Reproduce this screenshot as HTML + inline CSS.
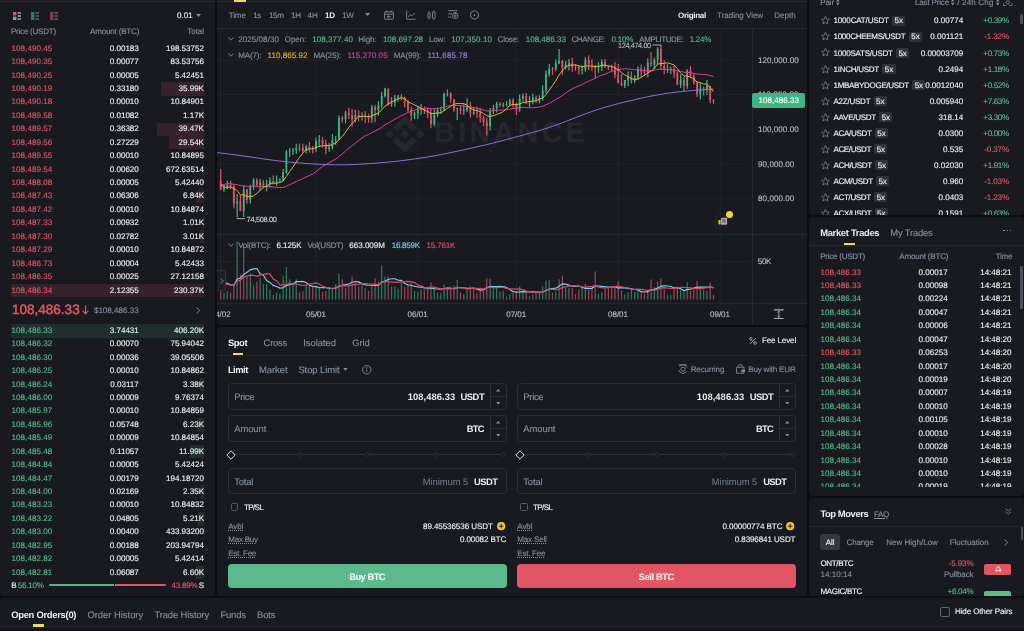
<!DOCTYPE html>
<html lang="en"><head><meta charset="utf-8">
<title>BTC/USDT | Binance Spot</title>
<style>
*{box-sizing:border-box;margin:0;padding:0}
html,body{width:1024px;height:631px;overflow:hidden;background:#0b0e11;}
body{text-rendering:geometricPrecision;font-family:"Liberation Sans",sans-serif;font-size:8.06px;color:#eaecef;-webkit-font-smoothing:antialiased;}
#root{will-change:transform;position:relative;width:1024px;height:631px;overflow:hidden;background:#0b0e11;}
.a{position:absolute;display:block}
.p{background:#181a20;overflow:hidden}
.t{white-space:nowrap}
.s{-webkit-text-stroke:0.13px}
svg{position:absolute;overflow:visible}
</style></head>
<body><div id="root">
<div class="a p" style="left:0px;top:-6px;width:215px;height:602px;border-radius:4px;">
<div class="a" style="left:0.00px;top:7.00px;width:215.00px;height:1.00px;background:#262a31;"></div>
<svg style="left:13px;top:17.8px;opacity:1.0" width="8" height="8" viewBox="0 0 8 8"><rect x="0" y="0" width="3.4" height="3.4" fill="#e25563"/><rect x="0" y="4.6" width="3.4" height="3.4" fill="#55b88a"/><rect x="4.6" y="0" width="3.4" height="1.8" fill="#848e9c"/><rect x="4.6" y="3.1" width="3.4" height="1.8" fill="#848e9c"/><rect x="4.6" y="6.2" width="3.4" height="1.8" fill="#848e9c"/></svg>
<svg style="left:31.2px;top:17.8px;opacity:0.55" width="8" height="8" viewBox="0 0 8 8"><rect x="0" y="0" width="3.4" height="8" fill="#55b88a"/><rect x="4.6" y="0" width="3.4" height="1.8" fill="#848e9c"/><rect x="4.6" y="3.1" width="3.4" height="1.8" fill="#848e9c"/><rect x="4.6" y="6.2" width="3.4" height="1.8" fill="#848e9c"/></svg>
<svg style="left:49.8px;top:17.8px;opacity:0.55" width="8" height="8" viewBox="0 0 8 8"><rect x="0" y="0" width="3.4" height="8" fill="#e25563"/><rect x="4.6" y="0" width="3.4" height="1.8" fill="#848e9c"/><rect x="4.6" y="3.1" width="3.4" height="1.8" fill="#848e9c"/><rect x="4.6" y="6.2" width="3.4" height="1.8" fill="#848e9c"/></svg>
<span id="t1" class="a t s" style="top:16.16px;height:12.09px;line-height:12.09px;font-size:8.06px;color:#eaecef;right:22.39px;letter-spacing:0.007px;">0.01</span>
<svg style="left:196px;top:20px" width="5" height="3" viewBox="0 0 5 3"><path d="M0 0h5L2.5 3z" fill="#848e9c"/></svg>
<span id="t2" class="a t s" style="top:31.85px;height:12.09px;line-height:12.09px;font-size:8.06px;color:#848e9c;left:11.00px;letter-spacing:-0.245px;">Price (USDT)</span>
<span id="t3" class="a t s" style="top:31.85px;height:12.09px;line-height:12.09px;font-size:8.06px;color:#848e9c;right:75.79px;letter-spacing:-0.185px;">Amount (BTC)</span>
<span id="t4" class="a t s" style="top:31.85px;height:12.09px;line-height:12.09px;font-size:8.06px;color:#848e9c;right:11.08px;letter-spacing:-0.080px;">Total</span>
<span id="t5" class="a t s" style="top:48.76px;height:12.09px;line-height:12.09px;font-size:8.06px;color:#e25563;left:11.60px;letter-spacing:0.032px;">108,490.45</span>
<span id="t6" class="a t s" style="top:48.76px;height:12.09px;line-height:12.09px;font-size:8.06px;color:#eaecef;right:76.20px;">0.00183</span>
<span id="t7" class="a t s" style="top:48.76px;height:12.09px;line-height:12.09px;font-size:8.06px;color:#eaecef;right:11.00px;">198.53752</span>
<span id="t8" class="a t s" style="top:62.18px;height:12.09px;line-height:12.09px;font-size:8.06px;color:#e25563;left:11.60px;letter-spacing:0.032px;">108,490.35</span>
<span id="t9" class="a t s" style="top:62.18px;height:12.09px;line-height:12.09px;font-size:8.06px;color:#eaecef;right:76.20px;">0.00077</span>
<span id="t10" class="a t s" style="top:62.18px;height:12.09px;line-height:12.09px;font-size:8.06px;color:#eaecef;right:11.00px;">83.53756</span>
<span id="t11" class="a t s" style="top:75.61px;height:12.09px;line-height:12.09px;font-size:8.06px;color:#e25563;left:11.60px;letter-spacing:0.032px;">108,490.25</span>
<span id="t12" class="a t s" style="top:75.61px;height:12.09px;line-height:12.09px;font-size:8.06px;color:#eaecef;right:76.20px;">0.00005</span>
<span id="t13" class="a t s" style="top:75.61px;height:12.09px;line-height:12.09px;font-size:8.06px;color:#eaecef;right:11.00px;">5.42451</span>
<div class="a" style="left:160.80px;top:88.28px;width:43.20px;height:13.43px;background:#35222a;"></div>
<span id="t14" class="a t s" style="top:89.05px;height:12.09px;line-height:12.09px;font-size:8.06px;color:#e25563;left:11.60px;letter-spacing:0.032px;">108,490.19</span>
<span id="t15" class="a t s" style="top:89.05px;height:12.09px;line-height:12.09px;font-size:8.06px;color:#eaecef;right:76.20px;">0.33180</span>
<span id="t16" class="a t s" style="top:89.05px;height:12.09px;line-height:12.09px;font-size:8.06px;color:#eaecef;right:11.00px;">35.99K</span>
<span id="t17" class="a t s" style="top:102.47px;height:12.09px;line-height:12.09px;font-size:8.06px;color:#e25563;left:11.60px;letter-spacing:0.032px;">108,490.18</span>
<span id="t18" class="a t s" style="top:102.47px;height:12.09px;line-height:12.09px;font-size:8.06px;color:#eaecef;right:76.20px;">0.00010</span>
<span id="t19" class="a t s" style="top:102.47px;height:12.09px;line-height:12.09px;font-size:8.06px;color:#eaecef;right:11.00px;">10.84901</span>
<div class="a" style="left:202.40px;top:115.14px;width:1.60px;height:13.43px;background:#35222a;"></div>
<span id="t20" class="a t s" style="top:115.91px;height:12.09px;line-height:12.09px;font-size:8.06px;color:#e25563;left:11.60px;letter-spacing:0.032px;">108,489.58</span>
<span id="t21" class="a t s" style="top:115.91px;height:12.09px;line-height:12.09px;font-size:8.06px;color:#eaecef;right:76.20px;">0.01082</span>
<span id="t22" class="a t s" style="top:115.91px;height:12.09px;line-height:12.09px;font-size:8.06px;color:#eaecef;right:11.00px;">1.17K</span>
<div class="a" style="left:156.60px;top:128.56px;width:47.40px;height:13.43px;background:#35222a;"></div>
<span id="t23" class="a t s" style="top:129.34px;height:12.09px;line-height:12.09px;font-size:8.06px;color:#e25563;left:11.60px;letter-spacing:0.032px;">108,489.57</span>
<span id="t24" class="a t s" style="top:129.34px;height:12.09px;line-height:12.09px;font-size:8.06px;color:#eaecef;right:76.20px;">0.36382</span>
<span id="t25" class="a t s" style="top:129.34px;height:12.09px;line-height:12.09px;font-size:8.06px;color:#eaecef;right:11.00px;">39.47K</span>
<div class="a" style="left:168.60px;top:141.99px;width:35.40px;height:13.43px;background:#35222a;"></div>
<span id="t26" class="a t s" style="top:142.76px;height:12.09px;line-height:12.09px;font-size:8.06px;color:#e25563;left:11.60px;letter-spacing:0.032px;">108,489.56</span>
<span id="t27" class="a t s" style="top:142.76px;height:12.09px;line-height:12.09px;font-size:8.06px;color:#eaecef;right:76.20px;">0.27229</span>
<span id="t28" class="a t s" style="top:142.76px;height:12.09px;line-height:12.09px;font-size:8.06px;color:#eaecef;right:11.00px;">29.54K</span>
<span id="t29" class="a t s" style="top:156.19px;height:12.09px;line-height:12.09px;font-size:8.06px;color:#e25563;left:11.60px;letter-spacing:0.032px;">108,489.55</span>
<span id="t30" class="a t s" style="top:156.19px;height:12.09px;line-height:12.09px;font-size:8.06px;color:#eaecef;right:76.20px;">0.00010</span>
<span id="t31" class="a t s" style="top:156.19px;height:12.09px;line-height:12.09px;font-size:8.06px;color:#eaecef;right:11.00px;">10.84895</span>
<div class="a" style="left:203.10px;top:168.85px;width:0.90px;height:13.43px;background:#35222a;"></div>
<span id="t32" class="a t s" style="top:169.62px;height:12.09px;line-height:12.09px;font-size:8.06px;color:#e25563;left:11.60px;letter-spacing:0.032px;">108,489.54</span>
<span id="t33" class="a t s" style="top:169.62px;height:12.09px;line-height:12.09px;font-size:8.06px;color:#eaecef;right:76.20px;">0.00620</span>
<span id="t34" class="a t s" style="top:169.62px;height:12.09px;line-height:12.09px;font-size:8.06px;color:#eaecef;right:11.00px;">672.63514</span>
<span id="t35" class="a t s" style="top:183.06px;height:12.09px;line-height:12.09px;font-size:8.06px;color:#e25563;left:11.60px;letter-spacing:0.032px;">108,488.08</span>
<span id="t36" class="a t s" style="top:183.06px;height:12.09px;line-height:12.09px;font-size:8.06px;color:#eaecef;right:76.20px;">0.00005</span>
<span id="t37" class="a t s" style="top:183.06px;height:12.09px;line-height:12.09px;font-size:8.06px;color:#eaecef;right:11.00px;">5.42440</span>
<div class="a" style="left:195.80px;top:195.72px;width:8.20px;height:13.43px;background:#35222a;"></div>
<span id="t38" class="a t s" style="top:196.49px;height:12.09px;line-height:12.09px;font-size:8.06px;color:#e25563;left:11.60px;letter-spacing:0.032px;">108,487.43</span>
<span id="t39" class="a t s" style="top:196.49px;height:12.09px;line-height:12.09px;font-size:8.06px;color:#eaecef;right:76.20px;">0.06306</span>
<span id="t40" class="a t s" style="top:196.49px;height:12.09px;line-height:12.09px;font-size:8.06px;color:#eaecef;right:11.00px;">6.84K</span>
<span id="t41" class="a t s" style="top:209.92px;height:12.09px;line-height:12.09px;font-size:8.06px;color:#e25563;left:11.60px;letter-spacing:0.032px;">108,487.42</span>
<span id="t42" class="a t s" style="top:209.92px;height:12.09px;line-height:12.09px;font-size:8.06px;color:#eaecef;right:76.20px;">0.00010</span>
<span id="t43" class="a t s" style="top:209.92px;height:12.09px;line-height:12.09px;font-size:8.06px;color:#eaecef;right:11.00px;">10.84874</span>
<div class="a" style="left:202.60px;top:222.58px;width:1.40px;height:13.43px;background:#35222a;"></div>
<span id="t44" class="a t s" style="top:223.35px;height:12.09px;line-height:12.09px;font-size:8.06px;color:#e25563;left:11.60px;letter-spacing:0.032px;">108,487.33</span>
<span id="t45" class="a t s" style="top:223.35px;height:12.09px;line-height:12.09px;font-size:8.06px;color:#eaecef;right:76.20px;">0.00932</span>
<span id="t46" class="a t s" style="top:223.35px;height:12.09px;line-height:12.09px;font-size:8.06px;color:#eaecef;right:11.00px;">1.01K</span>
<div class="a" style="left:200.40px;top:236.00px;width:3.60px;height:13.43px;background:#35222a;"></div>
<span id="t47" class="a t s" style="top:236.77px;height:12.09px;line-height:12.09px;font-size:8.06px;color:#e25563;left:11.60px;letter-spacing:0.032px;">108,487.30</span>
<span id="t48" class="a t s" style="top:236.77px;height:12.09px;line-height:12.09px;font-size:8.06px;color:#eaecef;right:76.20px;">0.02782</span>
<span id="t49" class="a t s" style="top:236.77px;height:12.09px;line-height:12.09px;font-size:8.06px;color:#eaecef;right:11.00px;">3.01K</span>
<span id="t50" class="a t s" style="top:250.20px;height:12.09px;line-height:12.09px;font-size:8.06px;color:#e25563;left:11.60px;letter-spacing:0.032px;">108,487.29</span>
<span id="t51" class="a t s" style="top:250.20px;height:12.09px;line-height:12.09px;font-size:8.06px;color:#eaecef;right:76.20px;">0.00010</span>
<span id="t52" class="a t s" style="top:250.20px;height:12.09px;line-height:12.09px;font-size:8.06px;color:#eaecef;right:11.00px;">10.84872</span>
<span id="t53" class="a t s" style="top:263.63px;height:12.09px;line-height:12.09px;font-size:8.06px;color:#e25563;left:11.60px;letter-spacing:0.032px;">108,486.73</span>
<span id="t54" class="a t s" style="top:263.63px;height:12.09px;line-height:12.09px;font-size:8.06px;color:#eaecef;right:76.20px;">0.00004</span>
<span id="t55" class="a t s" style="top:263.63px;height:12.09px;line-height:12.09px;font-size:8.06px;color:#eaecef;right:11.00px;">5.42433</span>
<span id="t56" class="a t s" style="top:277.06px;height:12.09px;line-height:12.09px;font-size:8.06px;color:#e25563;left:11.60px;letter-spacing:0.032px;">108,486.35</span>
<span id="t57" class="a t s" style="top:277.06px;height:12.09px;line-height:12.09px;font-size:8.06px;color:#eaecef;right:76.20px;">0.00025</span>
<span id="t58" class="a t s" style="top:277.06px;height:12.09px;line-height:12.09px;font-size:8.06px;color:#eaecef;right:11.00px;">27.12158</span>
<div class="a" style="left:11.00px;top:289.73px;width:193.00px;height:13.43px;background:#35222a;"></div>
<span id="t59" class="a t s" style="top:290.50px;height:12.09px;line-height:12.09px;font-size:8.06px;color:#e25563;left:11.60px;letter-spacing:0.032px;">108,486.34</span>
<span id="t60" class="a t s" style="top:290.50px;height:12.09px;line-height:12.09px;font-size:8.06px;color:#eaecef;right:76.20px;">2.12355</span>
<span id="t61" class="a t s" style="top:290.50px;height:12.09px;line-height:12.09px;font-size:8.06px;color:#eaecef;right:11.00px;">230.37K</span>
<div class="a" style="left:11.00px;top:330.09px;width:193.00px;height:13.43px;background:#1e2f2d;"></div>
<span id="t62" class="a t s" style="top:330.86px;height:12.09px;line-height:12.09px;font-size:8.06px;color:#55b88a;left:11.60px;letter-spacing:0.032px;">108,486.33</span>
<span id="t63" class="a t s" style="top:330.86px;height:12.09px;line-height:12.09px;font-size:8.06px;color:#eaecef;right:76.20px;">3.74431</span>
<span id="t64" class="a t s" style="top:330.86px;height:12.09px;line-height:12.09px;font-size:8.06px;color:#eaecef;right:11.00px;">406.20K</span>
<span id="t65" class="a t s" style="top:344.29px;height:12.09px;line-height:12.09px;font-size:8.06px;color:#55b88a;left:11.60px;letter-spacing:0.032px;">108,486.32</span>
<span id="t66" class="a t s" style="top:344.29px;height:12.09px;line-height:12.09px;font-size:8.06px;color:#eaecef;right:76.20px;">0.00070</span>
<span id="t67" class="a t s" style="top:344.29px;height:12.09px;line-height:12.09px;font-size:8.06px;color:#eaecef;right:11.00px;">75.94042</span>
<span id="t68" class="a t s" style="top:357.72px;height:12.09px;line-height:12.09px;font-size:8.06px;color:#55b88a;left:11.60px;letter-spacing:0.032px;">108,486.30</span>
<span id="t69" class="a t s" style="top:357.72px;height:12.09px;line-height:12.09px;font-size:8.06px;color:#eaecef;right:76.20px;">0.00036</span>
<span id="t70" class="a t s" style="top:357.72px;height:12.09px;line-height:12.09px;font-size:8.06px;color:#eaecef;right:11.00px;">39.05506</span>
<span id="t71" class="a t s" style="top:371.15px;height:12.09px;line-height:12.09px;font-size:8.06px;color:#55b88a;left:11.60px;letter-spacing:0.032px;">108,486.25</span>
<span id="t72" class="a t s" style="top:371.15px;height:12.09px;line-height:12.09px;font-size:8.06px;color:#eaecef;right:76.20px;">0.00010</span>
<span id="t73" class="a t s" style="top:371.15px;height:12.09px;line-height:12.09px;font-size:8.06px;color:#eaecef;right:11.00px;">10.84862</span>
<div class="a" style="left:200.00px;top:383.81px;width:4.00px;height:13.43px;background:#1e2f2d;"></div>
<span id="t74" class="a t s" style="top:384.57px;height:12.09px;line-height:12.09px;font-size:8.06px;color:#55b88a;left:11.60px;letter-spacing:0.032px;">108,486.24</span>
<span id="t75" class="a t s" style="top:384.57px;height:12.09px;line-height:12.09px;font-size:8.06px;color:#eaecef;right:76.20px;">0.03117</span>
<span id="t76" class="a t s" style="top:384.57px;height:12.09px;line-height:12.09px;font-size:8.06px;color:#eaecef;right:11.00px;">3.38K</span>
<span id="t77" class="a t s" style="top:398.01px;height:12.09px;line-height:12.09px;font-size:8.06px;color:#55b88a;left:11.60px;letter-spacing:0.032px;">108,486.00</span>
<span id="t78" class="a t s" style="top:398.01px;height:12.09px;line-height:12.09px;font-size:8.06px;color:#eaecef;right:76.20px;">0.00009</span>
<span id="t79" class="a t s" style="top:398.01px;height:12.09px;line-height:12.09px;font-size:8.06px;color:#eaecef;right:11.00px;">9.76374</span>
<span id="t80" class="a t s" style="top:411.44px;height:12.09px;line-height:12.09px;font-size:8.06px;color:#55b88a;left:11.60px;letter-spacing:0.032px;">108,485.97</span>
<span id="t81" class="a t s" style="top:411.44px;height:12.09px;line-height:12.09px;font-size:8.06px;color:#eaecef;right:76.20px;">0.00010</span>
<span id="t82" class="a t s" style="top:411.44px;height:12.09px;line-height:12.09px;font-size:8.06px;color:#eaecef;right:11.00px;">10.84859</span>
<div class="a" style="left:196.50px;top:424.10px;width:7.50px;height:13.43px;background:#1e2f2d;"></div>
<span id="t83" class="a t s" style="top:424.87px;height:12.09px;line-height:12.09px;font-size:8.06px;color:#55b88a;left:11.60px;letter-spacing:0.032px;">108,485.96</span>
<span id="t84" class="a t s" style="top:424.87px;height:12.09px;line-height:12.09px;font-size:8.06px;color:#eaecef;right:76.20px;">0.05748</span>
<span id="t85" class="a t s" style="top:424.87px;height:12.09px;line-height:12.09px;font-size:8.06px;color:#eaecef;right:11.00px;">6.23K</span>
<span id="t86" class="a t s" style="top:438.30px;height:12.09px;line-height:12.09px;font-size:8.06px;color:#55b88a;left:11.60px;letter-spacing:0.032px;">108,485.49</span>
<span id="t87" class="a t s" style="top:438.30px;height:12.09px;line-height:12.09px;font-size:8.06px;color:#eaecef;right:76.20px;">0.00009</span>
<span id="t88" class="a t s" style="top:438.30px;height:12.09px;line-height:12.09px;font-size:8.06px;color:#eaecef;right:11.00px;">10.84854</span>
<div class="a" style="left:189.60px;top:450.96px;width:14.40px;height:13.43px;background:#1e2f2d;"></div>
<span id="t89" class="a t s" style="top:451.73px;height:12.09px;line-height:12.09px;font-size:8.06px;color:#55b88a;left:11.60px;letter-spacing:0.032px;">108,485.48</span>
<span id="t90" class="a t s" style="top:451.73px;height:12.09px;line-height:12.09px;font-size:8.06px;color:#eaecef;right:76.20px;">0.11057</span>
<span id="t91" class="a t s" style="top:451.73px;height:12.09px;line-height:12.09px;font-size:8.06px;color:#eaecef;right:11.00px;">11.99K</span>
<span id="t92" class="a t s" style="top:465.16px;height:12.09px;line-height:12.09px;font-size:8.06px;color:#55b88a;left:11.60px;letter-spacing:0.032px;">108,484.84</span>
<span id="t93" class="a t s" style="top:465.16px;height:12.09px;line-height:12.09px;font-size:8.06px;color:#eaecef;right:76.20px;">0.00005</span>
<span id="t94" class="a t s" style="top:465.16px;height:12.09px;line-height:12.09px;font-size:8.06px;color:#eaecef;right:11.00px;">5.42424</span>
<span id="t95" class="a t s" style="top:478.58px;height:12.09px;line-height:12.09px;font-size:8.06px;color:#55b88a;left:11.60px;letter-spacing:0.032px;">108,484.47</span>
<span id="t96" class="a t s" style="top:478.58px;height:12.09px;line-height:12.09px;font-size:8.06px;color:#eaecef;right:76.20px;">0.00179</span>
<span id="t97" class="a t s" style="top:478.58px;height:12.09px;line-height:12.09px;font-size:8.06px;color:#eaecef;right:11.00px;">194.18720</span>
<div class="a" style="left:201.20px;top:491.25px;width:2.80px;height:13.43px;background:#1e2f2d;"></div>
<span id="t98" class="a t s" style="top:492.02px;height:12.09px;line-height:12.09px;font-size:8.06px;color:#55b88a;left:11.60px;letter-spacing:0.032px;">108,484.00</span>
<span id="t99" class="a t s" style="top:492.02px;height:12.09px;line-height:12.09px;font-size:8.06px;color:#eaecef;right:76.20px;">0.02169</span>
<span id="t100" class="a t s" style="top:492.02px;height:12.09px;line-height:12.09px;font-size:8.06px;color:#eaecef;right:11.00px;">2.35K</span>
<span id="t101" class="a t s" style="top:505.44px;height:12.09px;line-height:12.09px;font-size:8.06px;color:#55b88a;left:11.60px;letter-spacing:0.032px;">108,483.23</span>
<span id="t102" class="a t s" style="top:505.44px;height:12.09px;line-height:12.09px;font-size:8.06px;color:#eaecef;right:76.20px;">0.00010</span>
<span id="t103" class="a t s" style="top:505.44px;height:12.09px;line-height:12.09px;font-size:8.06px;color:#eaecef;right:11.00px;">10.84832</span>
<div class="a" style="left:197.70px;top:518.11px;width:6.30px;height:13.43px;background:#1e2f2d;"></div>
<span id="t104" class="a t s" style="top:518.88px;height:12.09px;line-height:12.09px;font-size:8.06px;color:#55b88a;left:11.60px;letter-spacing:0.032px;">108,483.22</span>
<span id="t105" class="a t s" style="top:518.88px;height:12.09px;line-height:12.09px;font-size:8.06px;color:#eaecef;right:76.20px;">0.04805</span>
<span id="t106" class="a t s" style="top:518.88px;height:12.09px;line-height:12.09px;font-size:8.06px;color:#eaecef;right:11.00px;">5.21K</span>
<div class="a" style="left:203.50px;top:531.53px;width:0.50px;height:13.43px;background:#1e2f2d;"></div>
<span id="t107" class="a t s" style="top:532.31px;height:12.09px;line-height:12.09px;font-size:8.06px;color:#55b88a;left:11.60px;letter-spacing:0.032px;">108,483.00</span>
<span id="t108" class="a t s" style="top:532.31px;height:12.09px;line-height:12.09px;font-size:8.06px;color:#eaecef;right:76.20px;">0.00400</span>
<span id="t109" class="a t s" style="top:532.31px;height:12.09px;line-height:12.09px;font-size:8.06px;color:#eaecef;right:11.00px;">433.93200</span>
<span id="t110" class="a t s" style="top:545.74px;height:12.09px;line-height:12.09px;font-size:8.06px;color:#55b88a;left:11.60px;letter-spacing:0.032px;">108,482.95</span>
<span id="t111" class="a t s" style="top:545.74px;height:12.09px;line-height:12.09px;font-size:8.06px;color:#eaecef;right:76.20px;">0.00188</span>
<span id="t112" class="a t s" style="top:545.74px;height:12.09px;line-height:12.09px;font-size:8.06px;color:#eaecef;right:11.00px;">203.94794</span>
<span id="t113" class="a t s" style="top:559.17px;height:12.09px;line-height:12.09px;font-size:8.06px;color:#55b88a;left:11.60px;letter-spacing:0.032px;">108,482.82</span>
<span id="t114" class="a t s" style="top:559.17px;height:12.09px;line-height:12.09px;font-size:8.06px;color:#eaecef;right:76.20px;">0.00005</span>
<span id="t115" class="a t s" style="top:559.17px;height:12.09px;line-height:12.09px;font-size:8.06px;color:#eaecef;right:11.00px;">5.42414</span>
<div class="a" style="left:196.10px;top:571.82px;width:7.90px;height:13.43px;background:#1e2f2d;"></div>
<span id="t116" class="a t s" style="top:572.60px;height:12.09px;line-height:12.09px;font-size:8.06px;color:#55b88a;left:11.60px;letter-spacing:0.032px;">108,482.81</span>
<span id="t117" class="a t s" style="top:572.60px;height:12.09px;line-height:12.09px;font-size:8.06px;color:#eaecef;right:76.20px;">0.06087</span>
<span id="t118" class="a t s" style="top:572.60px;height:12.09px;line-height:12.09px;font-size:8.06px;color:#eaecef;right:11.00px;">6.60K</span>
<span id="t119" class="a t" style="top:305.68px;height:20.25px;line-height:20.25px;font-size:13.5px;color:#e25563;left:11.90px;letter-spacing:0.022px;-webkit-text-stroke:0.5px #e25563;">108,486.33</span>
<svg style="left:81.6px;top:310.6px" width="7" height="9.6" viewBox="0 0 7 9.6"><path d="M3.5 0.3V8.6M0.6 5.7L3.5 8.8L6.4 5.7" fill="none" stroke="#e25563" stroke-width="1.15"/></svg>
<span id="t120" class="a t s" style="top:310.66px;height:12.09px;line-height:12.09px;font-size:8.06px;color:#848e9c;left:93.90px;letter-spacing:0.014px;">$108,486.33</span>
<svg style="left:196px;top:312.8px" width="4.4" height="7" viewBox="0 0 4.4 7"><path d="M0.6 0.5L3.7 3.5L0.6 6.5" fill="none" stroke="#848e9c" stroke-width="0.9"/></svg>
<span id="t121" class="a t s" style="top:585.56px;height:12.09px;line-height:12.09px;font-size:8.06px;color:#eaecef;left:11.30px;">B</span>
<span id="t122" class="a t s" style="top:585.56px;height:12.09px;line-height:12.09px;font-size:8.06px;color:#55b88a;left:17.80px;letter-spacing:-0.249px;">56.10%</span>
<div class="a" style="left:49.40px;top:589.70px;width:64.60px;height:2.60px;background:#55b88a;border-radius:1.3px 0 0 1.3px;"></div>
<div class="a" style="left:115.40px;top:589.70px;width:50.60px;height:2.60px;background:#e25563;border-radius:0 1.3px 1.3px 0;"></div>
<span id="t123" class="a t s" style="top:585.56px;height:12.09px;line-height:12.09px;font-size:8.06px;color:#e25563;left:171.40px;letter-spacing:-0.199px;">43.89%</span>
<span id="t124" class="a t s" style="top:585.56px;height:12.09px;line-height:12.09px;font-size:8.06px;color:#eaecef;right:11.00px;">S</span>
</div>
<div class="a p" style="left:217px;top:-6px;width:590px;height:331px;border-radius:4px;">
<div class="a" style="left:0.00px;top:7.00px;width:590.00px;height:1.00px;background:#262a31;"></div>
<div class="a" style="left:17.00px;top:5.00px;width:11.50px;height:2.60px;background:#f0d85a;"></div>
<div class="a" style="left:0.00px;top:33.60px;width:590.00px;height:1.00px;background:#23272e;"></div>
<span id="t125" class="a t s" style="top:15.55px;height:12.09px;line-height:12.09px;font-size:8.06px;color:#848e9c;left:11.80px;letter-spacing:-0.173px;">Time</span>
<span id="t126" class="a t s" style="top:15.55px;height:12.09px;line-height:12.09px;font-size:8.06px;color:#848e9c;left:36.30px;letter-spacing:-0.450px;">1s</span>
<span id="t127" class="a t s" style="top:15.55px;height:12.09px;line-height:12.09px;font-size:8.06px;color:#848e9c;left:52.00px;letter-spacing:-0.352px;">15m</span>
<span id="t128" class="a t s" style="top:15.55px;height:12.09px;line-height:12.09px;font-size:8.06px;color:#848e9c;left:74.10px;letter-spacing:-0.298px;">1H</span>
<span id="t129" class="a t s" style="top:15.55px;height:12.09px;line-height:12.09px;font-size:8.06px;color:#848e9c;left:90.50px;letter-spacing:0.002px;">4H</span>
<span id="t130" class="a t" style="top:15.55px;height:12.09px;line-height:12.09px;font-size:8.06px;color:#eaecef;font-weight:700;left:108.00px;letter-spacing:-0.298px;">1D</span>
<span id="t131" class="a t s" style="top:15.55px;height:12.09px;line-height:12.09px;font-size:8.06px;color:#848e9c;left:125.30px;letter-spacing:-0.589px;">1W</span>
<svg style="left:147.8px;top:19.4px" width="5" height="3" viewBox="0 0 5 3"><path d="M0 0h5L2.5 3z" fill="#848e9c"/></svg>
<svg style="left:167.00px;top:16.20px" width="10" height="10" viewBox="0 0 10 10" fill="none" stroke="#7b8594" stroke-width="0.95"><rect x="0.6" y="1.8" width="8.8" height="7.4" rx="0.9"/><path d="M0.6 4.2H9.4M2.8 0.4V2.6M7.2 0.4V2.6M3.2 6.7H6.8M5 5.4L3.2 6.7L5 8"/></svg>
<svg style="left:189.00px;top:16.20px" width="10" height="10" viewBox="0 0 10 10" fill="none" stroke="#7b8594" stroke-width="0.95"><path d="M0.7 0.5V9.2H9.6M2.2 7L4.2 4.4L5.8 5.8L8.8 2.6"/><path d="M2.6 1.2l1 0.6l-1 0.6z" fill="#7b8594" stroke="none"/></svg>
<svg style="left:210.40px;top:16.00px" width="9" height="10.4" viewBox="0 0 9 10.4" fill="none" stroke="#7b8594" stroke-width="0.95"><rect x="0.9" y="2.8" width="2.2" height="4.8" rx="0.5"/><path d="M2 1V2.8M2 7.6V9.4"/><rect x="5.5" y="2" width="2.6" height="6.4" rx="0.5"/><path d="M6.8 0.4V2M6.8 8.4V10"/></svg>
<svg style="left:231.40px;top:16.40px" width="10.4" height="9.6" viewBox="0 0 10.4 9.6" fill="none" stroke="#7b8594" stroke-width="0.95"><path d="M0.2 0.7H9.4M0.2 3.9H4M0.2 7.1H3.2"/><rect x="4.6" y="3.6" width="5.2" height="4.6" rx="1.4"/><circle cx="7.2" cy="5.9" r="0.9"/><path d="M5.6 3.6l0.6-1h2l0.6 1"/></svg>
<svg style="left:253.20px;top:16.20px" width="9" height="10" viewBox="0 0 9 10" fill="none" stroke="#7b8594" stroke-width="0.95"><path d="M4.5 0.6L8.4 2.8V7.2L4.5 9.4L0.6 7.2V2.8Z"/><path d="M3.8 3.8L6 5L3.8 6.2Z" fill="#7b8594" stroke="none"/></svg>
<span id="t132" class="a t" style="top:15.55px;height:12.09px;line-height:12.09px;font-size:8.06px;color:#eaecef;font-weight:700;left:461.00px;letter-spacing:-0.313px;">Original</span>
<span id="t133" class="a t s" style="top:15.55px;height:12.09px;line-height:12.09px;font-size:8.06px;color:#848e9c;left:500.10px;letter-spacing:-0.044px;">Trading View</span>
<span id="t134" class="a t s" style="top:15.55px;height:12.09px;line-height:12.09px;font-size:8.06px;color:#848e9c;left:557.30px;letter-spacing:0.003px;">Depth</span>
<svg style="left:167.9px;top:122.4px;opacity:0.06" width="202" height="38" viewBox="0 0 202 38"><g fill="#eaecef" transform="scale(0.315 0.29)"><path d="M63 47.6L78.4 63L63 78.4L47.6 63ZM38.2 53.6L63 28.8L87.8 53.6L102.2 39.2L63 0L23.8 39.2ZM0 63L14.4 48.6L28.8 63L14.4 77.4ZM97.2 63L111.6 48.6L126 63L111.6 77.4ZM38.2 72.4L63 97.2L87.8 72.4L102.2 86.8L63 126L23.8 86.8Z"/></g><text x="49.2" y="25.6" font-family="Liberation Sans, sans-serif" font-weight="700" font-size="28.5" letter-spacing="3.45" fill="#eaecef">BINANCE</text></svg>
<svg style="left:-217px;top:6px" width="1024" height="331" viewBox="0 0 1024 331"><path d="M217 60.1H752.4" stroke="#20242a" stroke-width="1"/><path d="M217 94.6H752.4" stroke="#20242a" stroke-width="1"/><path d="M217 129.2H752.4" stroke="#20242a" stroke-width="1"/><path d="M217 163.8H752.4" stroke="#20242a" stroke-width="1"/><path d="M217 198.3H752.4" stroke="#20242a" stroke-width="1"/><path d="M217 261.6H752.4" stroke="#20242a" stroke-width="1"/><path d="M220.7 28V303" stroke="#20242a" stroke-width="1"/><path d="M316.0 28V303" stroke="#20242a" stroke-width="1"/><path d="M417.8 28V303" stroke="#20242a" stroke-width="1"/><path d="M516.4 28V303" stroke="#20242a" stroke-width="1"/><path d="M618.2 28V303" stroke="#20242a" stroke-width="1"/><path d="M720.1 28V303" stroke="#20242a" stroke-width="1"/><path d="M752.4 28V325" stroke="#262a31" stroke-width="1"/><path d="M217 234.5H807M217 303.3H807" stroke="#262a31" stroke-width="1"/><path d="M223.99 184.26V191.80M227.27 180.49V189.08M237.13 194.02V217.27M243.70 185.90V216.89M250.27 184.68V203.39M253.55 178.34V189.91M260.12 179.05V190.43M266.69 180.11V191.37M269.98 177.15V187.64M276.55 175.49V185.66M279.84 178.23V182.81M283.12 169.04V181.37M286.41 150.28V173.77M289.69 148.11V156.94M292.98 147.66V155.07M296.26 143.85V154.08M306.12 144.63V153.24M315.97 137.82V152.19M319.26 134.96V145.90M329.11 142.70V151.76M332.40 134.36V149.47M335.69 136.10V144.98M338.97 115.38V139.91M345.54 110.86V123.38M355.40 109.70V122.47M361.97 112.15V120.60M371.82 105.10V122.97M378.39 101.18V115.80M381.68 91.89V108.12M384.96 87.81V97.41M391.54 97.28V106.69M394.82 94.88V106.83M398.11 94.97V101.65M414.53 111.44V118.91M417.82 105.79V118.71M421.10 103.86V115.00M434.24 108.69V126.19M437.53 107.71V116.93M440.82 106.84V113.67M444.10 92.82V110.89M447.39 89.62V96.44M457.24 107.78V120.01M463.81 104.22V115.05M467.10 98.28V111.99M473.67 107.83V115.27M490.09 108.12V130.58M493.38 104.94V114.06M496.67 101.84V112.49M503.24 102.39V107.44M506.52 100.96V106.62M509.81 98.76V106.19M519.66 94.42V111.77M522.95 93.46V101.68M529.52 95.65V107.47M532.80 93.85V104.51M539.37 95.35V103.36M542.66 85.27V100.63M545.94 70.46V92.92M549.23 64.00V76.68M555.80 59.41V71.20M559.09 48.97V63.90M565.66 60.93V69.51M568.94 59.10V70.61M582.08 65.30V74.45M585.37 57.29V71.67M598.51 62.20V73.11M601.79 59.57V71.08M624.79 80.10V88.02M628.08 71.57V85.93M634.65 74.90V82.92M637.93 66.44V79.85M647.79 58.18V77.34M654.36 57.73V69.03M657.64 47.32V63.90M667.50 64.36V72.91M670.79 66.72V74.11M680.64 74.15V88.00M687.21 69.08V88.78M700.35 83.11V99.31M706.92 79.98V94.69M713.49 99.15V103.81" stroke="#3cb583" stroke-width="1.2" fill="none"/><path d="M220.70 168.93V190.28M230.56 180.99V189.20M233.84 185.17V208.15M240.41 195.29V211.29M246.98 188.80V203.62M256.84 178.20V187.26M263.41 180.35V188.24M273.26 175.43V184.61M299.55 143.40V150.92M302.83 143.83V152.62M309.40 141.95V152.43M312.69 146.12V153.43M322.54 137.34V147.54M325.83 139.68V154.30M342.26 115.73V122.61M348.83 107.72V118.99M352.11 109.09V126.78M358.68 110.48V121.19M365.25 111.03V122.88M368.54 113.64V122.81M375.11 104.67V122.29M388.25 88.43V105.71M401.39 94.34V100.37M404.68 96.50V107.19M407.96 100.21V112.51M411.25 106.64V120.73M424.39 106.20V113.96M427.67 107.51V118.33M430.96 108.82V127.92M450.67 92.14V102.68M453.96 99.31V111.92M460.53 105.08V114.51M470.38 101.96V117.70M476.95 106.87V118.02M480.24 107.77V122.80M483.52 115.73V126.30M486.81 117.45V135.42M499.95 102.02V107.03M513.09 98.32V107.62M516.38 102.83V114.91M526.23 92.97V103.71M536.09 95.49V102.66M552.52 66.98V74.68M562.37 60.10V74.82M572.23 57.65V71.85M575.51 64.60V70.70M578.80 65.29V74.42M588.65 55.21V70.19M591.94 59.15V70.87M595.22 65.28V78.34M605.08 59.01V68.48M608.37 65.13V69.94M611.65 64.51V72.11M614.94 61.88V78.24M618.22 63.90V83.25M621.51 73.92V85.84M631.36 71.49V83.51M641.22 64.59V77.05M644.50 66.42V75.96M651.07 52.02V66.66M660.93 44.64V69.84M664.22 60.49V74.22M674.07 66.06V78.14M677.36 71.50V85.32M683.93 76.61V91.66M690.50 65.99V78.14M693.78 73.75V84.80M697.07 81.87V97.07M703.64 86.38V95.42M710.21 85.67V103.29" stroke="#e0506a" stroke-width="1.2" fill="none"/><path d="M223.09 187.21h1.8v2.38h-1.8zM226.37 184.86h1.8v2.35h-1.8zM236.23 201.20h1.8v2.52h-1.8zM242.80 189.25h1.8v21.77h-1.8zM249.37 186.48h1.8v13.16h-1.8zM252.65 180.06h1.8v6.43h-1.8zM259.22 182.44h1.8v2.87h-1.8zM265.79 184.38h1.8v1.35h-1.8zM269.08 181.20h1.8v3.18h-1.8zM275.65 180.75h1.8v2.11h-1.8zM278.94 180.40h1.8v0.80h-1.8zM282.22 172.32h1.8v8.08h-1.8zM285.51 151.86h1.8v20.45h-1.8zM288.79 151.00h1.8v0.86h-1.8zM292.08 150.00h1.8v1.00h-1.8zM295.36 147.72h1.8v2.28h-1.8zM305.22 146.44h1.8v4.35h-1.8zM315.07 141.33h1.8v8.02h-1.8zM318.36 139.95h1.8v1.38h-1.8zM328.21 147.41h1.8v1.55h-1.8zM331.50 140.15h1.8v7.26h-1.8zM334.79 139.46h1.8v0.80h-1.8zM338.07 117.94h1.8v21.52h-1.8zM344.64 112.58h1.8v6.36h-1.8zM354.50 115.03h1.8v4.53h-1.8zM361.07 116.21h1.8v0.86h-1.8zM370.92 106.92h1.8v11.47h-1.8zM377.49 105.53h1.8v4.42h-1.8zM380.78 95.89h1.8v9.64h-1.8zM384.06 88.78h1.8v7.12h-1.8zM390.64 102.39h1.8v1.52h-1.8zM393.92 98.10h1.8v4.28h-1.8zM397.21 96.62h1.8v1.49h-1.8zM413.63 113.34h1.8v2.07h-1.8zM416.92 109.71h1.8v3.63h-1.8zM420.20 108.95h1.8v0.80h-1.8zM433.34 114.38h1.8v9.60h-1.8zM436.63 110.02h1.8v4.35h-1.8zM439.92 109.40h1.8v0.80h-1.8zM443.20 93.75h1.8v15.65h-1.8zM446.49 93.72h1.8v0.80h-1.8zM456.34 108.23h1.8v1.38h-1.8zM462.91 109.89h1.8v0.80h-1.8zM466.20 105.74h1.8v4.15h-1.8zM472.77 112.31h1.8v1.17h-1.8zM489.19 110.78h1.8v15.10h-1.8zM492.48 108.19h1.8v2.59h-1.8zM495.77 103.84h1.8v4.35h-1.8zM502.34 104.84h1.8v0.80h-1.8zM505.62 103.98h1.8v0.86h-1.8zM508.91 100.32h1.8v3.66h-1.8zM518.76 98.62h1.8v10.95h-1.8zM522.05 96.10h1.8v2.52h-1.8zM528.62 100.87h1.8v0.80h-1.8zM531.90 97.41h1.8v3.45h-1.8zM538.47 98.38h1.8v2.28h-1.8zM541.76 90.40h1.8v7.98h-1.8zM545.04 73.89h1.8v16.51h-1.8zM548.33 68.63h1.8v5.25h-1.8zM554.90 63.24h1.8v5.77h-1.8zM558.19 60.65h1.8v2.59h-1.8zM564.76 64.83h1.8v3.01h-1.8zM568.04 62.93h1.8v1.90h-1.8zM581.18 69.15h1.8v0.80h-1.8zM584.47 60.27h1.8v8.88h-1.8zM597.61 67.29h1.8v1.07h-1.8zM600.89 62.10h1.8v5.18h-1.8zM623.89 80.10h1.8v5.74h-1.8zM627.18 77.17h1.8v2.94h-1.8zM633.75 77.41h1.8v2.97h-1.8zM637.03 68.84h1.8v8.57h-1.8zM646.89 62.55h1.8v9.78h-1.8zM653.46 59.65h1.8v4.98h-1.8zM656.74 48.66h1.8v10.99h-1.8zM666.60 69.15h1.8v0.80h-1.8zM669.89 69.05h1.8v0.80h-1.8zM679.74 79.90h1.8v4.84h-1.8zM686.31 70.67h1.8v15.34h-1.8zM699.45 88.57h1.8v5.70h-1.8zM706.02 85.77h1.8v4.53h-1.8zM712.59 99.88h1.8v0.80h-1.8z" fill="#3cb583"/><path d="M219.80 180.47h1.8v9.12h-1.8zM229.66 184.86h1.8v1.21h-1.8zM232.94 186.07h1.8v17.66h-1.8zM239.51 201.20h1.8v9.81h-1.8zM246.08 189.25h1.8v10.40h-1.8zM255.94 180.06h1.8v5.25h-1.8zM262.51 182.44h1.8v3.28h-1.8zM272.36 181.20h1.8v1.66h-1.8zM298.65 147.72h1.8v0.80h-1.8zM301.93 147.75h1.8v3.04h-1.8zM308.50 146.44h1.8v2.59h-1.8zM311.79 149.03h1.8v0.80h-1.8zM321.64 139.95h1.8v3.56h-1.8zM324.93 143.50h1.8v5.46h-1.8zM341.36 117.94h1.8v1.00h-1.8zM347.93 112.58h1.8v2.38h-1.8zM351.21 114.97h1.8v4.60h-1.8zM357.78 115.03h1.8v2.04h-1.8zM364.35 116.21h1.8v1.04h-1.8zM367.64 117.25h1.8v1.14h-1.8zM374.21 106.92h1.8v3.04h-1.8zM387.35 88.78h1.8v15.13h-1.8zM400.49 96.62h1.8v1.69h-1.8zM403.78 98.31h1.8v4.01h-1.8zM407.06 102.32h1.8v7.57h-1.8zM410.35 109.89h1.8v5.53h-1.8zM423.49 108.95h1.8v1.66h-1.8zM426.77 110.61h1.8v2.35h-1.8zM430.06 112.96h1.8v11.02h-1.8zM449.77 93.72h1.8v5.60h-1.8zM453.06 99.31h1.8v10.30h-1.8zM459.63 108.23h1.8v2.28h-1.8zM469.48 105.74h1.8v7.74h-1.8zM476.05 112.31h1.8v0.80h-1.8zM479.34 113.10h1.8v4.70h-1.8zM482.62 117.80h1.8v4.08h-1.8zM485.91 121.88h1.8v4.01h-1.8zM499.05 103.84h1.8v1.35h-1.8zM512.19 100.32h1.8v4.18h-1.8zM515.48 104.50h1.8v5.08h-1.8zM525.33 96.10h1.8v5.53h-1.8zM535.19 97.41h1.8v3.25h-1.8zM551.62 68.63h1.8v0.80h-1.8zM561.47 60.65h1.8v7.19h-1.8zM571.33 62.93h1.8v4.35h-1.8zM574.61 67.29h1.8v0.80h-1.8zM577.90 67.56h1.8v1.97h-1.8zM587.75 60.27h1.8v4.11h-1.8zM591.04 64.38h1.8v1.45h-1.8zM594.32 65.84h1.8v2.52h-1.8zM604.18 62.10h1.8v4.70h-1.8zM607.47 66.80h1.8v0.80h-1.8zM610.75 67.18h1.8v0.80h-1.8zM614.04 67.56h1.8v7.19h-1.8zM617.32 74.75h1.8v8.50h-1.8zM620.61 83.25h1.8v2.59h-1.8zM630.46 77.17h1.8v3.21h-1.8zM640.32 68.84h1.8v2.76h-1.8zM643.60 71.61h1.8v0.80h-1.8zM650.17 62.55h1.8v2.07h-1.8zM660.03 48.66h1.8v17.31h-1.8zM663.32 65.97h1.8v3.32h-1.8zM673.17 69.05h1.8v4.08h-1.8zM676.46 73.13h1.8v11.61h-1.8zM683.03 79.90h1.8v6.12h-1.8zM689.60 70.67h1.8v5.18h-1.8zM692.88 75.85h1.8v6.74h-1.8zM696.17 82.59h1.8v11.68h-1.8zM702.74 88.57h1.8v1.73h-1.8zM709.31 85.77h1.8v14.49h-1.8z" fill="#e0506a"/><path d="M217.41 152.59L220.70 153.00L223.99 153.42L227.27 153.83L230.56 154.25L233.84 154.67L237.13 155.11L240.41 155.55L243.70 156.00L246.98 156.46L250.27 156.93L253.55 157.41L256.84 157.90L260.12 158.39L263.41 158.89L266.69 159.37L269.98 159.82L273.26 160.25L276.55 160.66L279.84 161.05L283.12 161.42L286.41 161.76L289.69 162.08L292.98 162.39L296.26 162.69L299.55 162.97L302.83 163.23L306.12 163.47L309.40 163.70L312.69 163.91L315.97 164.09L319.26 164.26L322.54 164.41L325.83 164.54L329.11 164.68L332.40 164.77L335.69 164.83L338.97 164.86L342.26 164.84L345.54 164.80L348.83 164.72L352.11 164.60L355.40 164.44L358.68 164.25L361.97 164.05L365.25 163.84L368.54 163.62L371.82 163.40L375.11 163.17L378.39 162.92L381.68 162.66L384.96 162.37L388.25 162.06L391.54 161.74L394.82 161.40L398.11 161.04L401.39 160.66L404.68 160.26L407.96 159.83L411.25 159.40L414.53 158.95L417.82 158.49L421.10 158.01L424.39 157.50L427.67 156.96L430.96 156.40L434.24 155.82L437.53 155.22L440.82 154.60L444.10 153.95L447.39 153.28L450.67 152.60L453.96 151.91L457.24 151.21L460.53 150.50L463.81 149.79L467.10 149.07L470.38 148.33L473.67 147.60L476.95 146.86L480.24 146.11L483.52 145.35L486.81 144.57L490.09 143.77L493.38 142.95L496.67 142.12L499.95 141.28L503.24 140.42L506.52 139.54L509.81 138.66L513.09 137.77L516.38 136.89L519.66 136.01L522.95 135.12L526.23 134.23L529.52 133.34L532.80 132.44L536.09 131.53L539.37 130.59L542.66 129.60L545.94 128.56L549.23 127.49L552.52 126.37L555.80 125.21L559.09 124.01L562.37 122.78L565.66 121.50L568.94 120.21L572.23 118.93L575.51 117.63L578.80 116.35L582.08 115.09L585.37 113.86L588.65 112.67L591.94 111.51L595.22 110.38L598.51 109.29L601.79 108.25L605.08 107.26L608.37 106.32L611.65 105.41L614.94 104.51L618.22 103.64L621.51 102.80L624.79 101.98L628.08 101.20L631.36 100.43L634.65 99.66L637.93 98.90L641.22 98.16L644.50 97.45L647.79 96.78L651.07 96.12L654.36 95.49L657.64 94.88L660.93 94.30L664.22 93.77L667.50 93.28L670.79 92.84L674.07 92.42L677.36 92.03L680.64 91.66L683.93 91.33L687.21 91.03L690.50 90.76L693.78 90.49L697.07 90.24L700.35 89.99L703.64 89.75L706.92 89.51L710.21 89.28L713.49 89.05" stroke="#8d6fd6" stroke-width="1" fill="none"/><path d="M220.70 184.76L223.99 184.41L227.27 183.68L230.56 183.59L233.84 184.32L237.13 184.59L240.41 185.64L243.70 185.87L246.98 186.28L250.27 186.36L253.55 186.01L256.84 186.43L260.12 186.37L263.41 186.42L266.69 186.39L269.98 186.55L273.26 186.97L276.55 187.29L279.84 187.53L283.12 187.48L286.41 186.23L289.69 184.70L292.98 183.10L296.26 181.42L299.55 180.11L302.83 178.56L306.12 176.93L309.40 175.50L312.69 174.03L315.97 171.53L319.26 169.08L322.54 166.38L325.83 164.77L329.11 162.68L332.40 160.83L335.69 159.20L338.97 156.51L342.26 153.97L345.54 151.04L348.83 148.27L352.11 145.80L355.40 143.09L358.68 140.54L361.97 137.97L365.25 135.77L368.54 134.43L371.82 132.67L375.11 131.07L378.39 129.38L381.68 127.30L384.96 124.82L388.25 123.12L391.54 121.26L394.82 119.21L398.11 117.42L401.39 115.75L404.68 114.11L407.96 112.54L411.25 111.26L414.53 110.19L417.82 109.00L421.10 108.64L424.39 108.31L427.67 108.32L430.96 108.68L434.24 108.48L437.53 108.28L440.82 107.97L444.10 107.07L447.39 106.13L450.67 105.37L453.96 105.48L457.24 105.41L460.53 105.61L463.81 106.16L467.10 106.84L470.38 107.23L473.67 107.62L476.95 108.22L480.24 109.07L483.52 110.01L486.81 110.95L490.09 110.99L493.38 110.70L496.67 110.32L499.95 110.14L503.24 109.98L506.52 109.71L509.81 109.21L513.09 108.43L516.38 108.23L519.66 107.78L522.95 107.25L526.23 107.56L529.52 107.85L532.80 107.77L536.09 107.41L539.37 107.02L542.66 106.21L545.94 104.77L549.23 103.29L552.52 101.51L555.80 99.55L559.09 97.45L562.37 95.45L565.66 93.17L568.94 90.65L572.23 88.91L575.51 87.29L578.80 85.92L582.08 84.47L585.37 82.69L588.65 81.11L591.94 79.73L595.22 78.28L598.51 76.59L601.79 75.13L605.08 73.96L608.37 72.58L611.65 71.25L614.94 70.34L618.22 69.65L621.51 69.14L624.79 68.73L628.08 68.86L631.36 69.33L634.65 69.67L637.93 69.89L641.22 70.33L644.50 70.51L647.79 70.42L651.07 70.49L654.36 70.18L657.64 69.43L660.93 69.28L664.22 69.29L667.50 69.64L670.79 69.83L674.07 70.12L677.36 70.78L680.64 71.28L683.93 72.24L687.21 72.39L690.50 72.74L693.78 73.34L697.07 74.12L700.35 74.33L703.64 74.51L706.92 74.74L710.21 75.66L713.49 76.44" stroke="#d4409d" stroke-width="1" fill="none"/><path d="M220.70 185.08L223.99 187.05L227.27 187.30L230.56 186.84L233.84 188.80L237.13 190.45L240.41 194.81L243.70 194.76L246.98 196.54L250.27 196.77L253.55 195.91L256.84 193.28L260.12 190.60L263.41 186.99L266.69 186.29L269.98 183.66L273.26 183.14L276.55 183.24L279.84 182.54L283.12 181.09L286.41 176.25L289.69 171.48L292.98 167.03L296.26 162.01L299.55 157.29L302.83 153.06L306.12 149.37L309.40 148.96L312.69 148.73L315.97 147.49L319.26 146.38L322.54 145.77L325.83 145.51L329.11 145.65L332.40 144.38L335.69 142.97L338.97 139.62L342.26 136.62L345.54 132.21L348.83 127.35L352.11 123.37L355.40 119.78L358.68 116.58L361.97 116.34L365.25 116.10L368.54 116.92L371.82 115.77L375.11 114.40L378.39 113.05L381.68 110.02L384.96 106.10L388.25 104.20L391.54 101.91L394.82 100.65L398.11 98.75L401.39 97.72L404.68 98.63L407.96 101.65L411.25 103.29L414.53 104.86L417.82 106.52L421.10 108.28L424.39 110.03L427.67 111.55L430.96 113.57L434.24 113.42L437.53 112.95L440.82 112.90L444.10 110.73L447.39 108.32L450.67 106.37L453.96 104.31L457.24 103.44L460.53 103.50L463.81 103.57L467.10 105.29L470.38 108.11L473.67 109.97L476.95 110.46L480.24 111.83L483.52 113.46L486.81 115.74L490.09 116.46L493.38 115.71L496.67 114.50L499.95 113.37L503.24 111.52L506.52 108.96L509.81 105.31L513.09 104.41L516.38 104.61L519.66 103.86L522.95 102.56L526.23 102.10L529.52 101.66L532.80 101.24L536.09 100.70L539.37 99.10L542.66 97.92L545.94 94.75L549.23 90.04L552.52 85.48L555.80 80.60L559.09 74.89L562.37 70.52L565.66 66.87L568.94 65.31L572.23 65.11L575.51 64.91L578.80 65.81L582.08 67.02L585.37 65.94L588.65 65.87L591.94 66.29L595.22 66.44L598.51 66.40L601.79 65.34L605.08 65.01L608.37 65.99L611.65 66.45L614.94 67.72L618.22 69.85L621.51 72.50L624.79 75.07L628.08 76.55L631.36 78.44L634.65 79.84L637.93 79.00L641.22 77.34L644.50 75.41L647.79 72.90L651.07 71.11L654.36 68.15L657.64 64.04L660.93 63.63L664.22 63.30L667.50 62.84L670.79 63.77L674.07 64.99L677.36 68.57L680.64 73.03L683.93 75.89L687.21 76.09L690.50 77.05L693.78 78.98L697.07 82.00L700.35 82.55L703.64 84.04L706.92 84.00L710.21 88.23L713.49 91.66" stroke="#e9b226" stroke-width="1" fill="none"/><path d="M223.37 292.55h1.24V299.6h-1.24zM226.65 291.02h1.24V299.6h-1.24zM236.51 241.38h1.24V299.6h-1.24zM243.08 245.98h1.24V299.6h-1.24zM249.65 273.79h1.24V299.6h-1.24zM252.93 285.51h1.24V299.6h-1.24zM259.50 278.54h1.24V299.6h-1.24zM266.07 283.97h1.24V299.6h-1.24zM269.36 289.41h1.24V299.6h-1.24zM275.93 292.55h1.24V299.6h-1.24zM279.22 293.32h1.24V299.6h-1.24zM282.50 276.16h1.24V299.6h-1.24zM285.79 267.12h1.24V299.6h-1.24zM289.07 279.30h1.24V299.6h-1.24zM292.36 283.97h1.24V299.6h-1.24zM295.64 279.30h1.24V299.6h-1.24zM305.50 284.74h1.24V299.6h-1.24zM315.35 286.35h1.24V299.6h-1.24zM318.64 287.11h1.24V299.6h-1.24zM328.49 288.65h1.24V299.6h-1.24zM331.78 287.88h1.24V299.6h-1.24zM335.07 283.97h1.24V299.6h-1.24zM338.35 273.79h1.24V299.6h-1.24zM344.92 287.88h1.24V299.6h-1.24zM354.78 282.44h1.24V299.6h-1.24zM361.35 285.51h1.24V299.6h-1.24zM371.20 286.35h1.24V299.6h-1.24zM377.77 282.06h1.24V299.6h-1.24zM381.06 265.51h1.24V299.6h-1.24zM384.34 276.47h1.24V299.6h-1.24zM390.92 286.35h1.24V299.6h-1.24zM394.20 286.35h1.24V299.6h-1.24zM397.49 288.65h1.24V299.6h-1.24zM413.91 291.02h1.24V299.6h-1.24zM417.20 291.79h1.24V299.6h-1.24zM420.48 289.41h1.24V299.6h-1.24zM433.62 287.88h1.24V299.6h-1.24zM436.91 293.01h1.24V299.6h-1.24zM440.20 293.01h1.24V299.6h-1.24zM443.48 284.43h1.24V299.6h-1.24zM446.77 287.11h1.24V299.6h-1.24zM456.62 280.07h1.24V299.6h-1.24zM463.19 294.16h1.24V299.6h-1.24zM466.48 288.65h1.24V299.6h-1.24zM473.05 288.65h1.24V299.6h-1.24zM489.47 278.84h1.24V299.6h-1.24zM492.76 288.65h1.24V299.6h-1.24zM496.05 287.88h1.24V299.6h-1.24zM502.62 290.56h1.24V299.6h-1.24zM505.90 296.46h1.24V299.6h-1.24zM509.19 294.16h1.24V299.6h-1.24zM519.04 286.35h1.24V299.6h-1.24zM522.33 289.41h1.24V299.6h-1.24zM528.90 296.15h1.24V299.6h-1.24zM532.18 294.62h1.24V299.6h-1.24zM538.75 292.55h1.24V299.6h-1.24zM542.04 286.35h1.24V299.6h-1.24zM545.32 280.83h1.24V299.6h-1.24zM548.61 280.07h1.24V299.6h-1.24zM555.18 292.09h1.24V299.6h-1.24zM558.47 279.30h1.24V299.6h-1.24zM565.04 287.88h1.24V299.6h-1.24zM568.32 287.88h1.24V299.6h-1.24zM581.46 287.11h1.24V299.6h-1.24zM584.75 283.97h1.24V299.6h-1.24zM597.89 294.16h1.24V299.6h-1.24zM601.17 292.55h1.24V299.6h-1.24zM624.17 294.16h1.24V299.6h-1.24zM627.46 292.55h1.24V299.6h-1.24zM634.03 291.79h1.24V299.6h-1.24zM637.31 289.87h1.24V299.6h-1.24zM647.17 291.79h1.24V299.6h-1.24zM653.74 287.11h1.24V299.6h-1.24zM657.02 282.06h1.24V299.6h-1.24zM666.88 294.62h1.24V299.6h-1.24zM670.17 294.93h1.24V299.6h-1.24zM680.02 289.41h1.24V299.6h-1.24zM686.59 282.06h1.24V299.6h-1.24zM699.73 287.11h1.24V299.6h-1.24zM706.30 291.02h1.24V299.6h-1.24zM712.87 294.91h1.24V299.6h-1.24z" fill="#2b7a5b"/><path d="M220.08 269.88h1.24V299.6h-1.24zM229.94 292.55h1.24V299.6h-1.24zM233.22 283.97h1.24V299.6h-1.24zM239.79 274.63h1.24V299.6h-1.24zM246.36 276.93h1.24V299.6h-1.24zM256.22 281.60h1.24V299.6h-1.24zM262.79 283.97h1.24V299.6h-1.24zM272.64 294.93h1.24V299.6h-1.24zM298.93 292.55h1.24V299.6h-1.24zM302.21 291.02h1.24V299.6h-1.24zM308.78 285.51h1.24V299.6h-1.24zM312.07 287.11h1.24V299.6h-1.24zM321.92 291.79h1.24V299.6h-1.24zM325.21 291.02h1.24V299.6h-1.24zM341.64 279.30h1.24V299.6h-1.24zM348.21 286.35h1.24V299.6h-1.24zM351.49 276.62h1.24V299.6h-1.24zM358.06 287.11h1.24V299.6h-1.24zM364.63 287.88h1.24V299.6h-1.24zM367.92 291.02h1.24V299.6h-1.24zM374.49 278.15h1.24V299.6h-1.24zM387.63 276.47h1.24V299.6h-1.24zM400.77 283.21h1.24V299.6h-1.24zM404.06 287.11h1.24V299.6h-1.24zM407.34 284.74h1.24V299.6h-1.24zM410.63 282.44h1.24V299.6h-1.24zM423.77 289.41h1.24V299.6h-1.24zM427.05 288.95h1.24V299.6h-1.24zM430.34 282.44h1.24V299.6h-1.24zM450.05 289.41h1.24V299.6h-1.24zM453.34 286.35h1.24V299.6h-1.24zM459.91 292.55h1.24V299.6h-1.24zM469.76 286.35h1.24V299.6h-1.24zM476.33 293.32h1.24V299.6h-1.24zM479.62 287.42h1.24V299.6h-1.24zM482.90 291.02h1.24V299.6h-1.24zM486.19 278.15h1.24V299.6h-1.24zM499.33 291.48h1.24V299.6h-1.24zM512.47 291.79h1.24V299.6h-1.24zM515.76 292.55h1.24V299.6h-1.24zM525.61 292.55h1.24V299.6h-1.24zM535.47 292.55h1.24V299.6h-1.24zM551.90 292.55h1.24V299.6h-1.24zM561.75 275.85h1.24V299.6h-1.24zM571.61 287.88h1.24V299.6h-1.24zM574.89 294.16h1.24V299.6h-1.24zM578.18 289.41h1.24V299.6h-1.24zM588.03 287.88h1.24V299.6h-1.24zM591.32 287.88h1.24V299.6h-1.24zM594.60 271.49h1.24V299.6h-1.24zM604.46 288.95h1.24V299.6h-1.24zM607.75 287.42h1.24V299.6h-1.24zM611.03 286.35h1.24V299.6h-1.24zM614.32 286.35h1.24V299.6h-1.24zM617.60 281.14h1.24V299.6h-1.24zM620.89 290.56h1.24V299.6h-1.24zM630.74 290.25h1.24V299.6h-1.24zM640.60 291.79h1.24V299.6h-1.24zM643.88 293.63h1.24V299.6h-1.24zM650.45 279.61h1.24V299.6h-1.24zM660.31 278.46h1.24V299.6h-1.24zM663.60 288.65h1.24V299.6h-1.24zM673.45 288.65h1.24V299.6h-1.24zM676.74 286.58h1.24V299.6h-1.24zM683.31 291.02h1.24V299.6h-1.24zM689.88 291.02h1.24V299.6h-1.24zM693.16 287.88h1.24V299.6h-1.24zM696.45 280.83h1.24V299.6h-1.24zM703.02 289.41h1.24V299.6h-1.24zM709.59 282.44h1.24V299.6h-1.24z" fill="#9e4054"/><path d="M220.70 280.91L223.99 282.42L227.27 283.38L230.56 284.78L233.84 285.18L237.13 279.16L240.41 278.00L243.70 274.58L246.98 272.35L250.27 269.89L253.55 268.88L256.84 268.54L260.12 273.85L263.41 275.19L266.69 280.61L269.98 282.40L273.26 285.42L276.55 286.42L279.84 288.10L283.12 287.76L286.41 285.35L289.69 284.68L292.98 283.91L296.26 281.68L299.55 281.68L302.83 281.35L306.12 282.57L309.40 285.20L312.69 286.32L315.97 286.65L319.26 287.77L322.54 287.66L325.83 287.66L329.11 288.22L332.40 288.56L335.69 288.11L338.97 286.32L342.26 285.20L345.54 284.64L348.83 283.97L352.11 282.26L355.40 281.48L358.68 281.93L361.97 283.60L365.25 284.83L368.54 285.28L371.82 285.28L375.11 285.49L378.39 285.44L381.68 282.35L384.96 281.06L388.25 279.43L391.54 278.76L394.82 278.76L398.11 280.26L401.39 280.43L404.68 283.51L407.96 284.70L411.25 285.55L414.53 286.22L417.82 286.99L421.10 287.10L424.39 287.99L427.67 288.25L430.96 287.92L434.24 288.70L437.53 288.99L440.82 289.16L444.10 288.45L447.39 288.12L450.67 288.19L453.96 288.74L457.24 287.63L460.53 287.56L463.81 287.73L467.10 288.33L470.38 288.22L473.67 288.11L476.95 289.11L480.24 290.16L483.52 289.94L486.81 287.65L490.09 286.25L493.38 286.58L496.67 286.47L499.95 286.21L503.24 286.65L506.52 287.43L509.81 289.72L513.09 291.57L516.38 292.13L519.66 291.91L522.95 291.61L526.23 291.90L529.52 291.85L532.80 291.92L536.09 292.03L539.37 292.03L542.66 292.03L545.94 290.80L549.23 289.02L552.52 288.50L555.80 288.14L559.09 286.25L562.37 283.86L565.66 284.08L568.94 285.09L572.23 286.21L575.51 286.44L578.80 286.05L582.08 287.17L585.37 288.33L588.65 288.33L591.94 288.33L595.22 285.99L598.51 285.99L601.79 286.44L605.08 286.70L608.37 287.19L611.65 286.97L614.94 286.75L618.22 288.13L621.51 287.62L624.79 287.85L628.08 288.36L631.36 288.77L634.65 289.54L637.93 290.05L641.22 291.57L644.50 292.01L647.79 291.67L651.07 289.82L654.36 289.37L657.64 287.98L660.93 286.35L664.22 285.90L667.50 286.04L670.79 286.49L674.07 287.78L677.36 287.71L680.64 288.76L683.93 290.55L687.21 289.61L690.50 289.09L693.78 288.09L697.07 286.97L700.35 287.05L703.64 287.05L706.92 287.05L710.21 287.10L713.49 287.66" stroke="#7ad0e6" stroke-width="1.15" fill="none"/><path d="M220.70 282.83L223.99 283.51L227.27 284.27L230.56 285.09L233.84 285.06L237.13 281.09L240.41 280.28L243.70 276.80L246.98 276.06L250.27 275.11L253.55 275.29L256.84 276.36L260.12 275.08L263.41 274.44L266.69 273.66L269.98 274.15L273.26 279.02L276.55 280.65L279.84 284.96L283.12 284.89L286.41 284.28L289.69 283.72L292.98 283.93L296.26 284.00L299.55 284.78L302.83 285.42L306.12 285.00L309.40 284.14L312.69 283.65L315.97 283.01L319.26 284.01L322.54 286.25L325.83 287.32L329.11 287.74L332.40 288.52L335.69 287.74L338.97 286.17L342.26 285.68L345.54 285.90L348.83 285.83L352.11 284.94L355.40 284.52L358.68 284.09L361.97 283.59L365.25 283.52L368.54 283.81L371.82 284.02L375.11 284.42L378.39 284.67L381.68 282.64L384.96 281.74L388.25 281.72L391.54 282.08L394.82 282.01L398.11 282.30L401.39 281.87L404.68 281.52L407.96 281.37L411.25 281.76L414.53 282.57L417.82 284.96L421.10 286.14L424.39 287.32L427.67 287.55L430.96 287.20L434.24 287.13L437.53 288.02L440.82 288.56L444.10 288.53L447.39 288.95L450.67 288.81L453.96 288.31L457.24 287.46L460.53 287.75L463.81 288.22L467.10 288.79L470.38 288.65L473.67 288.25L476.95 288.28L480.24 288.55L483.52 288.90L486.81 287.88L490.09 287.20L493.38 287.98L496.67 287.55L499.95 287.31L503.24 287.48L506.52 288.40L509.81 288.90L513.09 288.76L516.38 289.23L519.66 288.81L522.95 289.83L526.23 291.08L529.52 291.76L532.80 292.37L536.09 292.47L539.37 292.65L542.66 291.73L545.94 290.52L549.23 289.45L552.52 289.45L555.80 289.98L559.09 289.06L562.37 287.54L565.66 286.79L568.94 286.17L572.23 285.75L575.51 285.90L578.80 286.17L582.08 286.75L585.37 287.10L588.65 286.68L591.94 286.29L595.22 285.58L598.51 287.25L601.79 287.67L605.08 287.77L608.37 287.73L611.65 287.02L614.94 286.74L618.22 286.20L621.51 286.79L624.79 287.36L628.08 287.79L631.36 289.50L634.65 289.28L637.93 289.04L641.22 289.29L644.50 289.86L647.79 290.35L651.07 289.74L654.36 290.28L657.64 289.51L660.93 288.08L664.22 287.73L667.50 288.12L670.79 288.41L674.07 288.30L677.36 287.82L680.64 287.44L683.93 287.37L687.21 287.59L690.50 287.95L693.78 288.48L697.07 288.69L700.35 288.56L703.64 288.08L706.92 287.73L710.21 287.16L713.49 287.92" stroke="#d9456a" stroke-width="1.25" fill="none"/><path d="M652.6 45H661.2" stroke="#c9ccd1" stroke-width="0.8"/><path d="M236.6 218.6H245" stroke="#c9ccd1" stroke-width="0.8"/></svg>
<svg style="left:11.4px;top:43.0px" width="6" height="4" viewBox="0 0 6 4"><path d="M0.5 0.5L3 3.2L5.5 0.5" fill="none" stroke="#848e9c" stroke-width="0.85"/></svg>
<svg style="left:11.4px;top:59.3px" width="6" height="4" viewBox="0 0 6 4"><path d="M0.5 0.5L3 3.2L5.5 0.5" fill="none" stroke="#848e9c" stroke-width="0.85"/></svg>
<svg style="left:11.4px;top:249.0px" width="6" height="4" viewBox="0 0 6 4"><path d="M0.5 0.5L3 3.2L5.5 0.5" fill="none" stroke="#848e9c" stroke-width="0.85"/></svg>
<span id="t135" class="a t s" style="top:39.76px;height:12.09px;line-height:12.09px;font-size:8.06px;color:#848e9c;left:21.20px;letter-spacing:0.052px;">2025/08/30</span>
<span id="t136" class="a t s" style="top:39.76px;height:12.09px;line-height:12.09px;font-size:8.06px;color:#848e9c;left:67.80px;letter-spacing:-0.084px;">Open:</span>
<span id="t137" class="a t s" style="top:39.76px;height:12.09px;line-height:12.09px;font-size:8.06px;color:#55b88a;left:95.30px;letter-spacing:0.032px;">108,377.40</span>
<span id="t138" class="a t s" style="top:39.76px;height:12.09px;line-height:12.09px;font-size:8.06px;color:#848e9c;left:141.30px;letter-spacing:-0.119px;">High:</span>
<span id="t139" class="a t s" style="top:39.76px;height:12.09px;line-height:12.09px;font-size:8.06px;color:#55b88a;left:165.90px;letter-spacing:-0.008px;">108,697.28</span>
<span id="t140" class="a t s" style="top:39.76px;height:12.09px;line-height:12.09px;font-size:8.06px;color:#848e9c;left:211.90px;letter-spacing:-0.175px;">Low:</span>
<span id="t141" class="a t s" style="top:39.76px;height:12.09px;line-height:12.09px;font-size:8.06px;color:#55b88a;left:234.30px;letter-spacing:0.032px;">107,350.10</span>
<span id="t142" class="a t s" style="top:39.76px;height:12.09px;line-height:12.09px;font-size:8.06px;color:#848e9c;left:280.60px;letter-spacing:-0.269px;">Close:</span>
<span id="t143" class="a t s" style="top:39.76px;height:12.09px;line-height:12.09px;font-size:8.06px;color:#55b88a;left:308.70px;letter-spacing:0.002px;">108,486.33</span>
<span id="t144" class="a t s" style="top:39.76px;height:12.09px;line-height:12.09px;font-size:8.06px;color:#848e9c;left:354.40px;letter-spacing:-0.382px;">CHANGE:</span>
<span id="t145" class="a t s" style="top:39.76px;height:12.09px;line-height:12.09px;font-size:8.06px;color:#55b88a;left:394.40px;letter-spacing:-0.206px;">0.10%</span>
<span id="t146" class="a t s" style="top:39.76px;height:12.09px;line-height:12.09px;font-size:8.06px;color:#848e9c;left:422.30px;letter-spacing:-0.440px;">AMPLITUDE:</span>
<span id="t147" class="a t s" style="top:39.76px;height:12.09px;line-height:12.09px;font-size:8.06px;color:#55b88a;left:472.80px;letter-spacing:-0.326px;">1.24%</span>
<span id="t148" class="a t s" style="top:56.05px;height:12.09px;line-height:12.09px;font-size:8.06px;color:#848e9c;left:21.20px;letter-spacing:-0.143px;">MA(7):</span>
<span id="t149" class="a t s" style="top:56.05px;height:12.09px;line-height:12.09px;font-size:8.06px;color:#e9b226;left:50.50px;letter-spacing:0.031px;">110,865.92</span>
<span id="t150" class="a t s" style="top:56.05px;height:12.09px;line-height:12.09px;font-size:8.06px;color:#848e9c;left:96.50px;letter-spacing:-0.146px;">MA(25):</span>
<span id="t151" class="a t s" style="top:56.05px;height:12.09px;line-height:12.09px;font-size:8.06px;color:#d4409d;left:130.40px;letter-spacing:0.061px;">115,270.05</span>
<span id="t152" class="a t s" style="top:56.05px;height:12.09px;line-height:12.09px;font-size:8.06px;color:#848e9c;left:176.80px;letter-spacing:-0.204px;">MA(99):</span>
<span id="t153" class="a t s" style="top:56.05px;height:12.09px;line-height:12.09px;font-size:8.06px;color:#9a7fe0;left:210.40px;letter-spacing:0.112px;">111,685.78</span>
<span id="t154" class="a t s" style="top:245.75px;height:12.09px;line-height:12.09px;font-size:8.06px;color:#848e9c;left:21.20px;letter-spacing:-0.275px;">Vol(BTC):</span>
<span id="t155" class="a t s" style="top:245.75px;height:12.09px;line-height:12.09px;font-size:8.06px;color:#eaecef;left:59.60px;letter-spacing:-0.119px;">6.125K</span>
<span id="t156" class="a t s" style="top:245.75px;height:12.09px;line-height:12.09px;font-size:8.06px;color:#848e9c;left:90.50px;letter-spacing:-0.306px;">Vol(USDT)</span>
<span id="t157" class="a t s" style="top:245.75px;height:12.09px;line-height:12.09px;font-size:8.06px;color:#eaecef;left:132.30px;letter-spacing:-0.012px;">663.009M</span>
<span id="t158" class="a t s" style="top:245.75px;height:12.09px;line-height:12.09px;font-size:8.06px;color:#7ad0e6;left:174.70px;letter-spacing:-0.269px;">16.859K</span>
<span id="t159" class="a t s" style="top:245.75px;height:12.09px;line-height:12.09px;font-size:8.06px;color:#e0506a;left:209.50px;letter-spacing:-0.183px;">15.761K</span>
<span id="t160" class="a t s" style="top:46.05px;height:11.1px;line-height:11.1px;font-size:7.4px;color:#aeb3ba;left:401.00px;letter-spacing:-0.420px;">124,474.00</span>
<span id="t161" class="a t s" style="top:219.65px;height:11.1px;line-height:11.1px;font-size:7.4px;color:#c9ccd1;left:29.60px;letter-spacing:-0.321px;">74,508.00</span>
<span id="t162" class="a t s" style="top:60.85px;height:12.09px;line-height:12.09px;font-size:8.06px;color:#b7bdc6;left:541.00px;letter-spacing:0.042px;">120,000.00</span>
<span id="t163" class="a t s" style="top:95.40px;height:12.09px;line-height:12.09px;font-size:8.06px;color:#b7bdc6;left:541.00px;letter-spacing:0.101px;">110,000.00</span>
<span id="t164" class="a t s" style="top:129.95px;height:12.09px;line-height:12.09px;font-size:8.06px;color:#b7bdc6;left:541.00px;letter-spacing:0.042px;">100,000.00</span>
<span id="t165" class="a t s" style="top:164.50px;height:12.09px;line-height:12.09px;font-size:8.06px;color:#b7bdc6;left:541.00px;letter-spacing:0.065px;">90,000.00</span>
<span id="t166" class="a t s" style="top:199.06px;height:12.09px;line-height:12.09px;font-size:8.06px;color:#b7bdc6;left:541.00px;letter-spacing:0.065px;">80,000.00</span>
<span id="t167" class="a t s" style="top:261.95px;height:12.09px;line-height:12.09px;font-size:8.06px;color:#b7bdc6;left:540.80px;letter-spacing:-0.343px;">50K</span>
<div class="a" style="left:535.40px;top:99.30px;width:52.40px;height:15.00px;background:#3cb583;border-radius:2px;"></div>
<span id="t168" class="a t s" style="top:101.35px;height:12.09px;line-height:12.09px;font-size:8.06px;color:#ffffff;left:541.40px;letter-spacing:0.042px;">108,486.33</span>
<span id="t169" class="a t s" style="top:315.06px;height:12.09px;line-height:12.09px;font-size:8.06px;color:#b7bdc6;left:-146.31px;width:300px;text-align:center;letter-spacing:-0.028px;">04/02</span>
<span id="t170" class="a t s" style="top:315.06px;height:12.09px;line-height:12.09px;font-size:8.06px;color:#b7bdc6;left:-51.01px;width:300px;text-align:center;letter-spacing:-0.028px;">05/01</span>
<span id="t171" class="a t s" style="top:315.06px;height:12.09px;line-height:12.09px;font-size:8.06px;color:#b7bdc6;left:50.59px;width:300px;text-align:center;letter-spacing:-0.028px;">06/01</span>
<span id="t172" class="a t s" style="top:315.06px;height:12.09px;line-height:12.09px;font-size:8.06px;color:#b7bdc6;left:149.19px;width:300px;text-align:center;letter-spacing:-0.028px;">07/01</span>
<span id="t173" class="a t s" style="top:315.06px;height:12.09px;line-height:12.09px;font-size:8.06px;color:#b7bdc6;left:250.99px;width:300px;text-align:center;letter-spacing:-0.028px;">08/01</span>
<span id="t174" class="a t s" style="top:315.06px;height:12.09px;line-height:12.09px;font-size:8.06px;color:#b7bdc6;left:352.99px;width:300px;text-align:center;letter-spacing:-0.028px;">09/01</span>
<div class="a" style="left:0.00px;top:276.00px;width:9.40px;height:21.00px;background:#1e2128;border:0.8px solid #2b3139;border-radius:0 3px 3px 0;border-left:none;"></div>
<svg style="left:2.6px;top:283.6px" width="4" height="6" viewBox="0 0 4 6"><path d="M0.6 0.5L3.3 3L0.6 5.5" fill="none" stroke="#848e9c" stroke-width="0.8"/></svg>
<svg style="left:497.9px;top:220.3px" width="14.6" height="14.2" viewBox="0 0 14.6 14.2"><rect x="0.4" y="0.4" width="13.8" height="13.4" rx="3" fill="#1a1d23" stroke="#22262d" stroke-width="0.7"/><rect x="6" y="3.8" width="6.1" height="6.9" rx="0.7" fill="#a4a9b2"/><path d="M7.4 6h3.3M7.4 7.9h3.3" stroke="#2a2e36" stroke-width="0.8"/><path d="M3.4 5.9h2.2v4.6h-0.6a1.6 1.6 0 0 1 -1.6 -1.6z" fill="#e9bf32"/></svg>
<div class="a" style="left:509.00px;top:217.10px;width:7.00px;height:7.00px;background:#f3d13c;border-radius:50%;"></div>
<svg style="left:557.4px;top:314.6px" width="9.6" height="10.4" viewBox="0 0 9.6 10.4" fill="none" stroke="#aeb4bc" stroke-width="1"><path d="M0 0.9H9.6M0 9.5H9.6" stroke-width="1.2"/><path d="M4.8 2V8.4M3.3 3.6L4.8 2.1L6.3 3.6M3.3 6.8L4.8 8.3L6.3 6.8" stroke-width="0.85"/></svg>
</div>
<div class="a p" style="left:217px;top:327px;width:590px;height:269px;border-radius:4px;">
<span id="t175" class="a t" style="top:8.85px;height:14.1px;line-height:14.1px;font-size:9.4px;color:#eaecef;font-weight:700;left:10.90px;letter-spacing:-0.386px;">Spot</span>
<span id="t176" class="a t s" style="top:8.85px;height:14.1px;line-height:14.1px;font-size:9.4px;color:#848e9c;left:46.60px;letter-spacing:-0.237px;">Cross</span>
<span id="t177" class="a t s" style="top:8.85px;height:14.1px;line-height:14.1px;font-size:9.4px;color:#848e9c;left:86.20px;letter-spacing:-0.005px;">Isolated</span>
<span id="t178" class="a t s" style="top:8.85px;height:14.1px;line-height:14.1px;font-size:9.4px;color:#848e9c;left:135.30px;letter-spacing:-0.130px;">Grid</span>
<div class="a" style="left:15.70px;top:25.60px;width:10.20px;height:2.00px;background:#f0d85a;"></div>
<div class="a" style="left:0.00px;top:27.60px;width:590.00px;height:1.00px;background:#23272e;"></div>
<svg style="left:531.6px;top:9.8px" width="8" height="8" viewBox="0 0 8 8" fill="none" stroke="#aeb4bc" stroke-width="0.85"><path d="M6.9 1.1L1.1 6.9"/><circle cx="1.9" cy="1.9" r="1.25"/><circle cx="6.1" cy="6.1" r="1.25"/></svg>
<span id="t179" class="a t s" style="top:8.36px;height:12.09px;line-height:12.09px;font-size:8.06px;color:#eaecef;left:544.90px;letter-spacing:-0.127px;">Fee Level</span>
<span id="t180" class="a t" style="top:35.75px;height:14.1px;line-height:14.1px;font-size:9.4px;color:#eaecef;font-weight:700;left:10.90px;letter-spacing:-0.501px;">Limit</span>
<span id="t181" class="a t s" style="top:35.75px;height:14.1px;line-height:14.1px;font-size:9.4px;color:#848e9c;left:42.00px;letter-spacing:-0.026px;">Market</span>
<span id="t182" class="a t s" style="top:35.75px;height:14.1px;line-height:14.1px;font-size:9.4px;color:#848e9c;left:81.40px;letter-spacing:-0.049px;">Stop Limit</span>
<svg style="left:126.0px;top:41.0px" width="4.8" height="2.8" viewBox="0 0 5 3"><path d="M0 0h5L2.5 3z" fill="#848e9c"/></svg>
<svg style="left:145.2px;top:37.6px" width="9.6" height="9.6" viewBox="0 0 9.6 9.6" fill="none" stroke="#848e9c" stroke-width="0.85"><circle cx="4.8" cy="4.8" r="4.2"/><path d="M4.8 4.3V7"/><circle cx="4.8" cy="2.9" r="0.35" fill="#848e9c"/></svg>
<svg style="left:461.4px;top:37.4px" width="9.6" height="9.6" viewBox="0 0 9.6 9.6" fill="none" stroke="#848e9c" stroke-width="0.85"><circle cx="5" cy="5.2" r="2.1"/><path d="M1 6.2A4 4 0 0 0 8.6 7M8.8 3.6A4 4 0 0 0 1.4 2.6M0.6 0.9H9"/></svg>
<span id="t183" class="a t s" style="top:36.75px;height:12.09px;line-height:12.09px;font-size:8.06px;color:#848e9c;left:473.70px;letter-spacing:-0.143px;">Recurring</span>
<svg style="left:518.8px;top:37.2px" width="9.4" height="9.8" viewBox="0 0 9.4 9.8" fill="none" stroke="#848e9c" stroke-width="0.85"><path d="M0.6 3.2H8V9.2H0.6ZM2.4 3.2V2.4A1.9 1.9 0 0 1 6.2 2.4V3.2"/><rect x="5.4" y="5.6" width="3.6" height="2.4" fill="#848e9c" stroke="none"/></svg>
<span id="t184" class="a t s" style="top:36.75px;height:12.09px;line-height:12.09px;font-size:8.06px;color:#848e9c;left:531.30px;letter-spacing:-0.203px;">Buy with EUR</span>
<div class="a" style="left:11.20px;top:56.40px;width:278.60px;height:26.40px;border:1px solid #2a2f37;border-radius:4px;"></div>
<span id="t185" class="a t s" style="top:63.35px;height:14.1px;line-height:14.1px;font-size:9.4px;color:#848e9c;left:17.20px;letter-spacing:-0.272px;">Price</span>
<span id="t186" class="a t" style="top:63.35px;height:14.1px;line-height:14.1px;font-size:9.4px;color:#eaecef;font-weight:700;right:351.74px;letter-spacing:0.058px;">108,486.33</span>
<span id="t187" class="a t" style="top:63.35px;height:14.1px;line-height:14.1px;font-size:9.4px;color:#eaecef;font-weight:700;right:322.88px;letter-spacing:-0.483px;">USDT</span>
<div class="a" style="left:11.20px;top:88.20px;width:278.60px;height:26.40px;border:1px solid #2a2f37;border-radius:4px;"></div>
<span id="t188" class="a t s" style="top:95.25px;height:14.1px;line-height:14.1px;font-size:9.4px;color:#848e9c;left:17.20px;letter-spacing:-0.035px;">Amount</span>
<span id="t189" class="a t" style="top:95.25px;height:14.1px;line-height:14.1px;font-size:9.4px;color:#eaecef;font-weight:700;right:323.16px;letter-spacing:-0.760px;">BTC</span>
<div class="a" style="left:272.60px;top:56.90px;width:1.00px;height:25.40px;background:#2a2f37;"></div>
<div class="a" style="left:272.60px;top:69.10px;width:16.30px;height:1.00px;background:#2a2f37;"></div>
<svg style="left:279.0px;top:62.1px" width="4.4" height="2.6" viewBox="0 0 5 3"><path d="M0 3h5L2.5 0z" fill="#848e9c"/></svg>
<svg style="left:279.0px;top:74.7px" width="4.4" height="2.6" viewBox="0 0 5 3"><path d="M0 0h5L2.5 3z" fill="#848e9c"/></svg>
<div class="a" style="left:272.60px;top:88.70px;width:1.00px;height:25.40px;background:#2a2f37;"></div>
<div class="a" style="left:272.60px;top:100.90px;width:16.30px;height:1.00px;background:#2a2f37;"></div>
<svg style="left:279.0px;top:93.9px" width="4.4" height="2.6" viewBox="0 0 5 3"><path d="M0 3h5L2.5 0z" fill="#848e9c"/></svg>
<svg style="left:279.0px;top:106.5px" width="4.4" height="2.6" viewBox="0 0 5 3"><path d="M0 0h5L2.5 3z" fill="#848e9c"/></svg>
<div class="a" style="left:16.20px;top:127.10px;width:272.60px;height:1.00px;background:#2b3139;"></div>
<svg style="left:79.65px;top:125.00px" width="5.2" height="5.2" viewBox="0 0 5.2 5.2"><path d="M2.6 0.4L4.8 2.6L2.6 4.8L0.4 2.6Z" fill="#181a20" stroke="#3a414b" stroke-width="0.7"/></svg>
<svg style="left:147.60px;top:125.00px" width="5.2" height="5.2" viewBox="0 0 5.2 5.2"><path d="M2.6 0.4L4.8 2.6L2.6 4.8L0.4 2.6Z" fill="#181a20" stroke="#3a414b" stroke-width="0.7"/></svg>
<svg style="left:215.55px;top:125.00px" width="5.2" height="5.2" viewBox="0 0 5.2 5.2"><path d="M2.6 0.4L4.8 2.6L2.6 4.8L0.4 2.6Z" fill="#181a20" stroke="#3a414b" stroke-width="0.7"/></svg>
<svg style="left:283.50px;top:125.00px" width="5.2" height="5.2" viewBox="0 0 5.2 5.2"><path d="M2.6 0.4L4.8 2.6L2.6 4.8L0.4 2.6Z" fill="#181a20" stroke="#3a414b" stroke-width="0.7"/></svg>
<svg style="left:9.20px;top:122.60px" width="10" height="10" viewBox="0 0 10 10"><path d="M5 0.8L9.2 5L5 9.2L0.8 5Z" fill="#181a20" stroke="#dfe2e6" stroke-width="1"/></svg>
<div class="a" style="left:11.20px;top:140.70px;width:278.60px;height:26.70px;border:1px solid #2a2f37;border-radius:4px;"></div>
<span id="t190" class="a t s" style="top:147.75px;height:14.1px;line-height:14.1px;font-size:9.4px;color:#848e9c;left:17.20px;letter-spacing:-0.142px;">Total</span>
<span id="t191" class="a t s" style="top:147.75px;height:14.1px;line-height:14.1px;font-size:9.4px;color:#6a7380;right:338.85px;letter-spacing:-0.049px;">Minimum 5</span>
<span id="t192" class="a t" style="top:147.75px;height:14.1px;line-height:14.1px;font-size:9.4px;color:#eaecef;font-weight:700;right:309.66px;letter-spacing:-0.558px;">USDT</span>
<div class="a" style="left:13.60px;top:176.40px;width:7.90px;height:7.90px;border:0.9px solid #525a66;border-radius:1.5px;"></div>
<span id="t193" class="a t s" style="top:174.75px;height:12.09px;line-height:12.09px;font-size:8.06px;color:#eaecef;left:26.90px;letter-spacing:-0.595px;">TP/SL</span>
<span id="t194" class="a t s" style="top:193.66px;height:12.09px;line-height:12.09px;font-size:8.06px;color:#848e9c;left:11.20px;letter-spacing:-0.104px;text-decoration:underline dotted;text-decoration-thickness:0.7px;text-underline-offset:1.4px;">Avbl</span>
<span id="t195" class="a t s" style="top:207.35px;height:12.09px;line-height:12.09px;font-size:8.06px;color:#848e9c;left:11.20px;letter-spacing:-0.245px;text-decoration:underline dotted;text-decoration-thickness:0.7px;text-underline-offset:1.4px;">Max Buy</span>
<span id="t196" class="a t s" style="top:220.95px;height:12.09px;line-height:12.09px;font-size:8.06px;color:#848e9c;left:11.20px;letter-spacing:-0.259px;text-decoration:underline dotted;text-decoration-thickness:0.7px;text-underline-offset:1.4px;">Est. Fee</span>
<span id="t197" class="a t s" style="top:193.66px;height:12.09px;line-height:12.09px;font-size:8.06px;color:#eaecef;right:314.29px;letter-spacing:-0.090px;">89.45536536 USDT</span>
<span id="t198" class="a t s" style="top:207.35px;height:12.09px;line-height:12.09px;font-size:8.06px;color:#eaecef;right:300.69px;letter-spacing:-0.093px;">0.00082 BTC</span>
<svg style="left:280.2px;top:194.9px" width="8.4" height="8.4" viewBox="0 0 8.4 8.4"><circle cx="4.2" cy="4.2" r="4.1" fill="#f0c33a"/><path d="M4.2 2V6.4M2 4.2H6.4" stroke="#2a2410" stroke-width="1"/></svg>
<div class="a" style="left:11.20px;top:237.00px;width:278.50px;height:24.20px;background:#5bb98b;border-radius:4px;"></div>
<span id="t199" class="a t" style="top:242.85px;height:14.1px;line-height:14.1px;font-size:9.4px;color:#ffffff;font-weight:700;left:0.14px;width:300px;text-align:center;letter-spacing:-0.513px;">Buy BTC</span>
<div class="a" style="left:300.30px;top:56.40px;width:278.60px;height:26.40px;border:1px solid #2a2f37;border-radius:4px;"></div>
<span id="t200" class="a t s" style="top:63.35px;height:14.1px;line-height:14.1px;font-size:9.4px;color:#848e9c;left:306.30px;letter-spacing:-0.272px;">Price</span>
<span id="t201" class="a t" style="top:63.35px;height:14.1px;line-height:14.1px;font-size:9.4px;color:#eaecef;font-weight:700;right:62.64px;letter-spacing:0.058px;">108,486.33</span>
<span id="t202" class="a t" style="top:63.35px;height:14.1px;line-height:14.1px;font-size:9.4px;color:#eaecef;font-weight:700;right:33.78px;letter-spacing:-0.483px;">USDT</span>
<div class="a" style="left:300.30px;top:88.20px;width:278.60px;height:26.40px;border:1px solid #2a2f37;border-radius:4px;"></div>
<span id="t203" class="a t s" style="top:95.25px;height:14.1px;line-height:14.1px;font-size:9.4px;color:#848e9c;left:306.30px;letter-spacing:-0.035px;">Amount</span>
<span id="t204" class="a t" style="top:95.25px;height:14.1px;line-height:14.1px;font-size:9.4px;color:#eaecef;font-weight:700;right:34.06px;letter-spacing:-0.760px;">BTC</span>
<div class="a" style="left:561.70px;top:56.90px;width:1.00px;height:25.40px;background:#2a2f37;"></div>
<div class="a" style="left:561.70px;top:69.10px;width:16.30px;height:1.00px;background:#2a2f37;"></div>
<svg style="left:568.1px;top:62.1px" width="4.4" height="2.6" viewBox="0 0 5 3"><path d="M0 3h5L2.5 0z" fill="#848e9c"/></svg>
<svg style="left:568.1px;top:74.7px" width="4.4" height="2.6" viewBox="0 0 5 3"><path d="M0 0h5L2.5 3z" fill="#848e9c"/></svg>
<div class="a" style="left:561.70px;top:88.70px;width:1.00px;height:25.40px;background:#2a2f37;"></div>
<div class="a" style="left:561.70px;top:100.90px;width:16.30px;height:1.00px;background:#2a2f37;"></div>
<svg style="left:568.1px;top:93.9px" width="4.4" height="2.6" viewBox="0 0 5 3"><path d="M0 3h5L2.5 0z" fill="#848e9c"/></svg>
<svg style="left:568.1px;top:106.5px" width="4.4" height="2.6" viewBox="0 0 5 3"><path d="M0 0h5L2.5 3z" fill="#848e9c"/></svg>
<div class="a" style="left:305.30px;top:127.10px;width:272.60px;height:1.00px;background:#2b3139;"></div>
<svg style="left:368.75px;top:125.00px" width="5.2" height="5.2" viewBox="0 0 5.2 5.2"><path d="M2.6 0.4L4.8 2.6L2.6 4.8L0.4 2.6Z" fill="#181a20" stroke="#3a414b" stroke-width="0.7"/></svg>
<svg style="left:436.70px;top:125.00px" width="5.2" height="5.2" viewBox="0 0 5.2 5.2"><path d="M2.6 0.4L4.8 2.6L2.6 4.8L0.4 2.6Z" fill="#181a20" stroke="#3a414b" stroke-width="0.7"/></svg>
<svg style="left:504.65px;top:125.00px" width="5.2" height="5.2" viewBox="0 0 5.2 5.2"><path d="M2.6 0.4L4.8 2.6L2.6 4.8L0.4 2.6Z" fill="#181a20" stroke="#3a414b" stroke-width="0.7"/></svg>
<svg style="left:572.60px;top:125.00px" width="5.2" height="5.2" viewBox="0 0 5.2 5.2"><path d="M2.6 0.4L4.8 2.6L2.6 4.8L0.4 2.6Z" fill="#181a20" stroke="#3a414b" stroke-width="0.7"/></svg>
<svg style="left:298.30px;top:122.60px" width="10" height="10" viewBox="0 0 10 10"><path d="M5 0.8L9.2 5L5 9.2L0.8 5Z" fill="#181a20" stroke="#dfe2e6" stroke-width="1"/></svg>
<div class="a" style="left:300.30px;top:140.70px;width:278.60px;height:26.70px;border:1px solid #2a2f37;border-radius:4px;"></div>
<span id="t205" class="a t s" style="top:147.75px;height:14.1px;line-height:14.1px;font-size:9.4px;color:#848e9c;left:306.30px;letter-spacing:-0.142px;">Total</span>
<span id="t206" class="a t s" style="top:147.75px;height:14.1px;line-height:14.1px;font-size:9.4px;color:#6a7380;right:49.75px;letter-spacing:-0.049px;">Minimum 5</span>
<span id="t207" class="a t" style="top:147.75px;height:14.1px;line-height:14.1px;font-size:9.4px;color:#eaecef;font-weight:700;right:20.56px;letter-spacing:-0.558px;">USDT</span>
<div class="a" style="left:302.70px;top:176.40px;width:7.90px;height:7.90px;border:0.9px solid #525a66;border-radius:1.5px;"></div>
<span id="t208" class="a t s" style="top:174.75px;height:12.09px;line-height:12.09px;font-size:8.06px;color:#eaecef;left:316.00px;letter-spacing:-0.595px;">TP/SL</span>
<span id="t209" class="a t s" style="top:193.66px;height:12.09px;line-height:12.09px;font-size:8.06px;color:#848e9c;left:300.30px;letter-spacing:-0.104px;text-decoration:underline dotted;text-decoration-thickness:0.7px;text-underline-offset:1.4px;">Avbl</span>
<span id="t210" class="a t s" style="top:207.35px;height:12.09px;line-height:12.09px;font-size:8.06px;color:#848e9c;left:300.30px;letter-spacing:-0.182px;text-decoration:underline dotted;text-decoration-thickness:0.7px;text-underline-offset:1.4px;">Max Sell</span>
<span id="t211" class="a t s" style="top:220.95px;height:12.09px;line-height:12.09px;font-size:8.06px;color:#848e9c;left:300.30px;letter-spacing:-0.259px;text-decoration:underline dotted;text-decoration-thickness:0.7px;text-underline-offset:1.4px;">Est. Fee</span>
<span id="t212" class="a t s" style="top:193.66px;height:12.09px;line-height:12.09px;font-size:8.06px;color:#eaecef;right:24.56px;letter-spacing:-0.060px;">0.00000774 BTC</span>
<span id="t213" class="a t s" style="top:207.35px;height:12.09px;line-height:12.09px;font-size:8.06px;color:#eaecef;right:11.61px;letter-spacing:-0.113px;">0.8396841 USDT</span>
<svg style="left:569.3px;top:194.9px" width="8.4" height="8.4" viewBox="0 0 8.4 8.4"><circle cx="4.2" cy="4.2" r="4.1" fill="#f0c33a"/><path d="M4.2 2V6.4M2 4.2H6.4" stroke="#2a2410" stroke-width="1"/></svg>
<div class="a" style="left:300.30px;top:237.00px;width:278.50px;height:24.20px;background:#e25563;border-radius:4px;"></div>
<span id="t214" class="a t" style="top:242.85px;height:14.1px;line-height:14.1px;font-size:9.4px;color:#ffffff;font-weight:700;left:289.30px;width:300px;text-align:center;letter-spacing:-0.395px;">Sell BTC</span>
</div>
<div class="a p" style="left:809px;top:-6px;width:215px;height:221px;border-radius:4px;">
<span id="t215" class="a t s" style="top:2.65px;height:12.09px;line-height:12.09px;font-size:8.06px;color:#848e9c;left:11.20px;letter-spacing:-0.078px;">Pair</span>
<svg style="left:27.2px;top:4.6px" width="3.6" height="6.4" viewBox="0 0 3.6 6.4"><path d="M0 2.6h3.6L1.8 0zM0 3.8h3.6L1.8 6.4z" fill="#848e9c"/></svg>
<span id="t216" class="a t s" style="top:2.65px;height:12.09px;line-height:12.09px;font-size:8.06px;color:#848e9c;left:106.00px;letter-spacing:-0.178px;">Last Price</span>
<svg style="left:142.2px;top:4.6px" width="3.6" height="6.4" viewBox="0 0 3.6 6.4"><path d="M0 2.6h3.6L1.8 0zM0 3.8h3.6L1.8 6.4z" fill="#848e9c"/></svg>
<span id="t217" class="a t s" style="top:2.65px;height:12.09px;line-height:12.09px;font-size:8.06px;color:#848e9c;left:148.20px;letter-spacing:0.166px;">/ 24h Chg</span>
<svg style="left:186.6px;top:4.6px" width="3.6" height="6.4" viewBox="0 0 3.6 6.4"><path d="M0 2.6h3.6L1.8 0zM0 3.8h3.6L1.8 6.4z" fill="#848e9c"/></svg>
<svg style="left:194.0px;top:2.6px" width="9.6" height="9" viewBox="0 0 9.6 9" fill="none" stroke="#848e9c" stroke-width="0.8"><path d="M0.5 2.5V0.5H9.1V2.5M3.2 8.5H0.5V6.5M9.1 6.5V8.5H6.4"/><circle cx="4.8" cy="5.4" r="1.7"/></svg>
<svg style="left:12.0px;top:22.40px" width="8.8" height="8.6" viewBox="0 0 8.8 8.6"><path d="M4.4 0.5L5.55 3.05L8.3 3.35L6.25 5.2L6.85 7.95L4.4 6.55L1.95 7.95L2.55 5.2L0.5 3.35L3.25 3.05Z" fill="none" stroke="#7a8492" stroke-width="0.8" stroke-linejoin="round"/></svg>
<span id="t218" class="a t" style="top:21.45px;height:12.09px;line-height:12.09px;font-size:8.06px;color:#eaecef;left:24.50px;letter-spacing:-0.187px;-webkit-text-stroke:0.15px #eaecef;">1000CAT/USDT</span>
<div class="a" style="left:83.10px;top:21.90px;width:13.30px;height:10.10px;background:#2d333c;border-radius:1.5px;"></div>
<span id="t219" class="a t s" style="top:21.45px;height:12.09px;line-height:12.09px;font-size:8.06px;color:#eaecef;left:-60.28px;width:300px;text-align:center;letter-spacing:-0.050px;">5x</span>
<span id="t220" class="a t s" style="top:21.45px;height:12.09px;line-height:12.09px;font-size:8.06px;color:#eaecef;right:60.80px;">0.00774</span>
<span id="t221" class="a t s" style="top:21.45px;height:12.09px;line-height:12.09px;font-size:8.06px;color:#55b88a;right:15.26px;letter-spacing:-0.355px;">+0.39%</span>
<svg style="left:12.0px;top:38.44px" width="8.8" height="8.6" viewBox="0 0 8.8 8.6"><path d="M4.4 0.5L5.55 3.05L8.3 3.35L6.25 5.2L6.85 7.95L4.4 6.55L1.95 7.95L2.55 5.2L0.5 3.35L3.25 3.05Z" fill="none" stroke="#7a8492" stroke-width="0.8" stroke-linejoin="round"/></svg>
<span id="t222" class="a t" style="top:37.49px;height:12.09px;line-height:12.09px;font-size:8.06px;color:#eaecef;left:24.50px;letter-spacing:-0.299px;-webkit-text-stroke:0.15px #eaecef;">1000CHEEMS/USDT</span>
<div class="a" style="left:99.80px;top:37.94px;width:13.30px;height:10.10px;background:#2d333c;border-radius:1.5px;"></div>
<span id="t223" class="a t s" style="top:37.49px;height:12.09px;line-height:12.09px;font-size:8.06px;color:#eaecef;left:-43.58px;width:300px;text-align:center;letter-spacing:-0.050px;">5x</span>
<span id="t224" class="a t s" style="top:37.49px;height:12.09px;line-height:12.09px;font-size:8.06px;color:#eaecef;right:60.80px;">0.001121</span>
<span id="t225" class="a t s" style="top:37.49px;height:12.09px;line-height:12.09px;font-size:8.06px;color:#e25563;right:15.05px;letter-spacing:-0.150px;">-1.32%</span>
<svg style="left:12.0px;top:54.48px" width="8.8" height="8.6" viewBox="0 0 8.8 8.6"><path d="M4.4 0.5L5.55 3.05L8.3 3.35L6.25 5.2L6.85 7.95L4.4 6.55L1.95 7.95L2.55 5.2L0.5 3.35L3.25 3.05Z" fill="none" stroke="#7a8492" stroke-width="0.8" stroke-linejoin="round"/></svg>
<span id="t226" class="a t" style="top:53.53px;height:12.09px;line-height:12.09px;font-size:8.06px;color:#eaecef;left:24.50px;letter-spacing:-0.251px;-webkit-text-stroke:0.15px #eaecef;">1000SATS/USDT</span>
<div class="a" style="left:87.00px;top:53.98px;width:13.30px;height:10.10px;background:#2d333c;border-radius:1.5px;"></div>
<span id="t227" class="a t s" style="top:53.53px;height:12.09px;line-height:12.09px;font-size:8.06px;color:#eaecef;left:-56.38px;width:300px;text-align:center;letter-spacing:-0.050px;">5x</span>
<span id="t228" class="a t s" style="top:53.53px;height:12.09px;line-height:12.09px;font-size:8.06px;color:#eaecef;right:60.80px;">0.00003709</span>
<span id="t229" class="a t s" style="top:53.53px;height:12.09px;line-height:12.09px;font-size:8.06px;color:#55b88a;right:15.26px;letter-spacing:-0.355px;">+0.73%</span>
<svg style="left:12.0px;top:70.52px" width="8.8" height="8.6" viewBox="0 0 8.8 8.6"><path d="M4.4 0.5L5.55 3.05L8.3 3.35L6.25 5.2L6.85 7.95L4.4 6.55L1.95 7.95L2.55 5.2L0.5 3.35L3.25 3.05Z" fill="none" stroke="#7a8492" stroke-width="0.8" stroke-linejoin="round"/></svg>
<span id="t230" class="a t" style="top:69.57px;height:12.09px;line-height:12.09px;font-size:8.06px;color:#eaecef;left:24.50px;letter-spacing:-0.280px;-webkit-text-stroke:0.15px #eaecef;">1INCH/USDT</span>
<div class="a" style="left:73.30px;top:70.02px;width:13.30px;height:10.10px;background:#2d333c;border-radius:1.5px;"></div>
<span id="t231" class="a t s" style="top:69.57px;height:12.09px;line-height:12.09px;font-size:8.06px;color:#eaecef;left:-70.08px;width:300px;text-align:center;letter-spacing:-0.050px;">5x</span>
<span id="t232" class="a t s" style="top:69.57px;height:12.09px;line-height:12.09px;font-size:8.06px;color:#eaecef;right:60.80px;">0.2494</span>
<span id="t233" class="a t s" style="top:69.57px;height:12.09px;line-height:12.09px;font-size:8.06px;color:#55b88a;right:15.26px;letter-spacing:-0.355px;">+1.18%</span>
<svg style="left:12.0px;top:86.56px" width="8.8" height="8.6" viewBox="0 0 8.8 8.6"><path d="M4.4 0.5L5.55 3.05L8.3 3.35L6.25 5.2L6.85 7.95L4.4 6.55L1.95 7.95L2.55 5.2L0.5 3.35L3.25 3.05Z" fill="none" stroke="#7a8492" stroke-width="0.8" stroke-linejoin="round"/></svg>
<span id="t234" class="a t" style="top:85.61px;height:12.09px;line-height:12.09px;font-size:8.06px;color:#eaecef;left:24.50px;letter-spacing:-0.340px;-webkit-text-stroke:0.15px #eaecef;">1MBABYDOGE/USDT</span>
<div class="a" style="left:103.20px;top:86.06px;width:13.30px;height:10.10px;background:#2d333c;border-radius:1.5px;"></div>
<span id="t235" class="a t s" style="top:85.61px;height:12.09px;line-height:12.09px;font-size:8.06px;color:#eaecef;left:-40.18px;width:300px;text-align:center;letter-spacing:-0.050px;">5x</span>
<span id="t236" class="a t s" style="top:85.61px;height:12.09px;line-height:12.09px;font-size:8.06px;color:#eaecef;right:60.80px;">0.0012040</span>
<span id="t237" class="a t s" style="top:85.61px;height:12.09px;line-height:12.09px;font-size:8.06px;color:#55b88a;right:15.26px;letter-spacing:-0.355px;">+0.52%</span>
<svg style="left:12.0px;top:102.60px" width="8.8" height="8.6" viewBox="0 0 8.8 8.6"><path d="M4.4 0.5L5.55 3.05L8.3 3.35L6.25 5.2L6.85 7.95L4.4 6.55L1.95 7.95L2.55 5.2L0.5 3.35L3.25 3.05Z" fill="none" stroke="#7a8492" stroke-width="0.8" stroke-linejoin="round"/></svg>
<span id="t238" class="a t" style="top:101.65px;height:12.09px;line-height:12.09px;font-size:8.06px;color:#eaecef;left:24.50px;letter-spacing:-0.263px;-webkit-text-stroke:0.15px #eaecef;">A2Z/USDT</span>
<div class="a" style="left:64.60px;top:102.10px;width:13.30px;height:10.10px;background:#2d333c;border-radius:1.5px;"></div>
<span id="t239" class="a t s" style="top:101.65px;height:12.09px;line-height:12.09px;font-size:8.06px;color:#eaecef;left:-78.78px;width:300px;text-align:center;letter-spacing:-0.050px;">5x</span>
<span id="t240" class="a t s" style="top:101.65px;height:12.09px;line-height:12.09px;font-size:8.06px;color:#eaecef;right:60.80px;">0.005940</span>
<span id="t241" class="a t s" style="top:101.65px;height:12.09px;line-height:12.09px;font-size:8.06px;color:#55b88a;right:15.26px;letter-spacing:-0.355px;">+7.63%</span>
<svg style="left:12.0px;top:118.64px" width="8.8" height="8.6" viewBox="0 0 8.8 8.6"><path d="M4.4 0.5L5.55 3.05L8.3 3.35L6.25 5.2L6.85 7.95L4.4 6.55L1.95 7.95L2.55 5.2L0.5 3.35L3.25 3.05Z" fill="none" stroke="#7a8492" stroke-width="0.8" stroke-linejoin="round"/></svg>
<span id="t242" class="a t" style="top:117.69px;height:12.09px;line-height:12.09px;font-size:8.06px;color:#eaecef;left:24.50px;letter-spacing:-0.291px;-webkit-text-stroke:0.15px #eaecef;">AAVE/USDT</span>
<div class="a" style="left:70.20px;top:118.14px;width:13.30px;height:10.10px;background:#2d333c;border-radius:1.5px;"></div>
<span id="t243" class="a t s" style="top:117.69px;height:12.09px;line-height:12.09px;font-size:8.06px;color:#eaecef;left:-73.18px;width:300px;text-align:center;letter-spacing:-0.050px;">5x</span>
<span id="t244" class="a t s" style="top:117.69px;height:12.09px;line-height:12.09px;font-size:8.06px;color:#eaecef;right:60.80px;">318.14</span>
<span id="t245" class="a t s" style="top:117.69px;height:12.09px;line-height:12.09px;font-size:8.06px;color:#55b88a;right:15.26px;letter-spacing:-0.355px;">+3.30%</span>
<svg style="left:12.0px;top:134.68px" width="8.8" height="8.6" viewBox="0 0 8.8 8.6"><path d="M4.4 0.5L5.55 3.05L8.3 3.35L6.25 5.2L6.85 7.95L4.4 6.55L1.95 7.95L2.55 5.2L0.5 3.35L3.25 3.05Z" fill="none" stroke="#7a8492" stroke-width="0.8" stroke-linejoin="round"/></svg>
<span id="t246" class="a t" style="top:133.74px;height:12.09px;line-height:12.09px;font-size:8.06px;color:#eaecef;left:24.50px;letter-spacing:-0.336px;-webkit-text-stroke:0.15px #eaecef;">ACA/USDT</span>
<div class="a" style="left:65.80px;top:134.18px;width:13.30px;height:10.10px;background:#2d333c;border-radius:1.5px;"></div>
<span id="t247" class="a t s" style="top:133.74px;height:12.09px;line-height:12.09px;font-size:8.06px;color:#eaecef;left:-77.58px;width:300px;text-align:center;letter-spacing:-0.050px;">5x</span>
<span id="t248" class="a t s" style="top:133.74px;height:12.09px;line-height:12.09px;font-size:8.06px;color:#eaecef;right:60.80px;">0.0300</span>
<span id="t249" class="a t s" style="top:133.74px;height:12.09px;line-height:12.09px;font-size:8.06px;color:#55b88a;right:15.26px;letter-spacing:-0.355px;">+0.00%</span>
<svg style="left:12.0px;top:150.72px" width="8.8" height="8.6" viewBox="0 0 8.8 8.6"><path d="M4.4 0.5L5.55 3.05L8.3 3.35L6.25 5.2L6.85 7.95L4.4 6.55L1.95 7.95L2.55 5.2L0.5 3.35L3.25 3.05Z" fill="none" stroke="#7a8492" stroke-width="0.8" stroke-linejoin="round"/></svg>
<span id="t250" class="a t" style="top:149.78px;height:12.09px;line-height:12.09px;font-size:8.06px;color:#eaecef;left:24.50px;letter-spacing:-0.411px;-webkit-text-stroke:0.15px #eaecef;">ACE/USDT</span>
<div class="a" style="left:65.20px;top:150.22px;width:13.30px;height:10.10px;background:#2d333c;border-radius:1.5px;"></div>
<span id="t251" class="a t s" style="top:149.78px;height:12.09px;line-height:12.09px;font-size:8.06px;color:#eaecef;left:-78.18px;width:300px;text-align:center;letter-spacing:-0.050px;">5x</span>
<span id="t252" class="a t s" style="top:149.78px;height:12.09px;line-height:12.09px;font-size:8.06px;color:#eaecef;right:60.80px;">0.535</span>
<span id="t253" class="a t s" style="top:149.78px;height:12.09px;line-height:12.09px;font-size:8.06px;color:#e25563;right:15.05px;letter-spacing:-0.150px;">-0.37%</span>
<svg style="left:12.0px;top:166.76px" width="8.8" height="8.6" viewBox="0 0 8.8 8.6"><path d="M4.4 0.5L5.55 3.05L8.3 3.35L6.25 5.2L6.85 7.95L4.4 6.55L1.95 7.95L2.55 5.2L0.5 3.35L3.25 3.05Z" fill="none" stroke="#7a8492" stroke-width="0.8" stroke-linejoin="round"/></svg>
<span id="t254" class="a t" style="top:165.81px;height:12.09px;line-height:12.09px;font-size:8.06px;color:#eaecef;left:24.50px;letter-spacing:-0.343px;-webkit-text-stroke:0.15px #eaecef;">ACH/USDT</span>
<div class="a" style="left:66.20px;top:166.26px;width:13.30px;height:10.10px;background:#2d333c;border-radius:1.5px;"></div>
<span id="t255" class="a t s" style="top:165.81px;height:12.09px;line-height:12.09px;font-size:8.06px;color:#eaecef;left:-77.18px;width:300px;text-align:center;letter-spacing:-0.050px;">5x</span>
<span id="t256" class="a t s" style="top:165.81px;height:12.09px;line-height:12.09px;font-size:8.06px;color:#eaecef;right:60.80px;">0.02030</span>
<span id="t257" class="a t s" style="top:165.81px;height:12.09px;line-height:12.09px;font-size:8.06px;color:#55b88a;right:15.26px;letter-spacing:-0.355px;">+1.91%</span>
<svg style="left:12.0px;top:182.80px" width="8.8" height="8.6" viewBox="0 0 8.8 8.6"><path d="M4.4 0.5L5.55 3.05L8.3 3.35L6.25 5.2L6.85 7.95L4.4 6.55L1.95 7.95L2.55 5.2L0.5 3.35L3.25 3.05Z" fill="none" stroke="#7a8492" stroke-width="0.8" stroke-linejoin="round"/></svg>
<span id="t258" class="a t" style="top:181.85px;height:12.09px;line-height:12.09px;font-size:8.06px;color:#eaecef;left:24.50px;letter-spacing:-0.354px;-webkit-text-stroke:0.15px #eaecef;">ACM/USDT</span>
<div class="a" style="left:67.00px;top:182.30px;width:13.30px;height:10.10px;background:#2d333c;border-radius:1.5px;"></div>
<span id="t259" class="a t s" style="top:181.85px;height:12.09px;line-height:12.09px;font-size:8.06px;color:#eaecef;left:-76.38px;width:300px;text-align:center;letter-spacing:-0.050px;">5x</span>
<span id="t260" class="a t s" style="top:181.85px;height:12.09px;line-height:12.09px;font-size:8.06px;color:#eaecef;right:60.80px;">0.960</span>
<span id="t261" class="a t s" style="top:181.85px;height:12.09px;line-height:12.09px;font-size:8.06px;color:#e25563;right:15.05px;letter-spacing:-0.150px;">-1.03%</span>
<svg style="left:12.0px;top:198.84px" width="8.8" height="8.6" viewBox="0 0 8.8 8.6"><path d="M4.4 0.5L5.55 3.05L8.3 3.35L6.25 5.2L6.85 7.95L4.4 6.55L1.95 7.95L2.55 5.2L0.5 3.35L3.25 3.05Z" fill="none" stroke="#7a8492" stroke-width="0.8" stroke-linejoin="round"/></svg>
<span id="t262" class="a t" style="top:197.90px;height:12.09px;line-height:12.09px;font-size:8.06px;color:#eaecef;left:24.50px;letter-spacing:-0.356px;-webkit-text-stroke:0.15px #eaecef;">ACT/USDT</span>
<div class="a" style="left:65.20px;top:198.34px;width:13.30px;height:10.10px;background:#2d333c;border-radius:1.5px;"></div>
<span id="t263" class="a t s" style="top:197.90px;height:12.09px;line-height:12.09px;font-size:8.06px;color:#eaecef;left:-78.18px;width:300px;text-align:center;letter-spacing:-0.050px;">5x</span>
<span id="t264" class="a t s" style="top:197.90px;height:12.09px;line-height:12.09px;font-size:8.06px;color:#eaecef;right:60.80px;">0.0403</span>
<span id="t265" class="a t s" style="top:197.90px;height:12.09px;line-height:12.09px;font-size:8.06px;color:#e25563;right:15.05px;letter-spacing:-0.150px;">-1.23%</span>
<svg style="left:12.0px;top:214.88px" width="8.8" height="8.6" viewBox="0 0 8.8 8.6"><path d="M4.4 0.5L5.55 3.05L8.3 3.35L6.25 5.2L6.85 7.95L4.4 6.55L1.95 7.95L2.55 5.2L0.5 3.35L3.25 3.05Z" fill="none" stroke="#7a8492" stroke-width="0.8" stroke-linejoin="round"/></svg>
<span id="t266" class="a t" style="top:213.94px;height:12.09px;line-height:12.09px;font-size:8.06px;color:#eaecef;left:24.50px;letter-spacing:-0.361px;-webkit-text-stroke:0.15px #eaecef;">ACX/USDT</span>
<div class="a" style="left:65.60px;top:214.38px;width:13.30px;height:10.10px;background:#2d333c;border-radius:1.5px;"></div>
<span id="t267" class="a t s" style="top:213.94px;height:12.09px;line-height:12.09px;font-size:8.06px;color:#eaecef;left:-77.78px;width:300px;text-align:center;letter-spacing:-0.050px;">5x</span>
<span id="t268" class="a t s" style="top:213.94px;height:12.09px;line-height:12.09px;font-size:8.06px;color:#eaecef;right:60.80px;">0.1591</span>
<span id="t269" class="a t s" style="top:213.94px;height:12.09px;line-height:12.09px;font-size:8.06px;color:#55b88a;right:15.26px;letter-spacing:-0.355px;">+0.63%</span>
<div class="a" style="left:211.20px;top:19.60px;width:2.60px;height:10.60px;background:#4a515c;border-radius:1.3px;"></div>
</div>
<div class="a p" style="left:809px;top:217px;width:215px;height:278.5px;border-radius:4px;">
<span id="t270" class="a t" style="top:9.05px;height:14.1px;line-height:14.1px;font-size:9.4px;color:#eaecef;font-weight:700;left:11.20px;letter-spacing:-0.305px;">Market Trades</span>
<span id="t271" class="a t s" style="top:9.05px;height:14.1px;line-height:14.1px;font-size:9.4px;color:#848e9c;left:81.30px;letter-spacing:-0.163px;">My Trades</span>
<div class="a" style="left:194.40px;top:12.80px;width:1.60px;height:1.60px;background:#9aa3af;border-radius:50%;"></div>
<div class="a" style="left:197.60px;top:12.80px;width:1.60px;height:1.60px;background:#9aa3af;border-radius:50%;"></div>
<div class="a" style="left:200.80px;top:12.80px;width:1.60px;height:1.60px;background:#9aa3af;border-radius:50%;"></div>
<div class="a" style="left:35.10px;top:26.40px;width:11.00px;height:2.00px;background:#f0d85a;"></div>
<div class="a" style="left:0.00px;top:28.20px;width:215.00px;height:1.00px;background:#23272e;"></div>
<span id="t272" class="a t s" style="top:34.36px;height:12.09px;line-height:12.09px;font-size:8.06px;color:#848e9c;left:11.20px;letter-spacing:-0.254px;">Price (USDT)</span>
<span id="t273" class="a t s" style="top:34.36px;height:12.09px;line-height:12.09px;font-size:8.06px;color:#848e9c;right:75.81px;letter-spacing:-0.210px;">Amount (BTC)</span>
<span id="t274" class="a t s" style="top:34.36px;height:12.09px;line-height:12.09px;font-size:8.06px;color:#848e9c;right:11.77px;letter-spacing:-0.273px;">Time</span>
<div class="a p" style="left:0px;top:45px;width:215px;height:225.2px;border-radius:0;background:transparent;">
<span id="t275" class="a t s" style="top:4.55px;height:12.09px;line-height:12.09px;font-size:8.06px;color:#e25563;left:11.60px;letter-spacing:0.022px;">108,486.33</span>
<span id="t276" class="a t s" style="top:4.55px;height:12.09px;line-height:12.09px;font-size:8.06px;color:#eaecef;right:76.30px;">0.00017</span>
<span id="t277" class="a t s" style="top:4.55px;height:12.09px;line-height:12.09px;font-size:8.06px;color:#eaecef;right:12.62px;letter-spacing:-0.016px;">14:48:21</span>
<span id="t278" class="a t s" style="top:17.99px;height:12.09px;line-height:12.09px;font-size:8.06px;color:#e25563;left:11.60px;letter-spacing:0.022px;">108,486.33</span>
<span id="t279" class="a t s" style="top:17.99px;height:12.09px;line-height:12.09px;font-size:8.06px;color:#eaecef;right:76.30px;">0.00098</span>
<span id="t280" class="a t s" style="top:17.99px;height:12.09px;line-height:12.09px;font-size:8.06px;color:#eaecef;right:12.62px;letter-spacing:-0.016px;">14:48:21</span>
<span id="t281" class="a t s" style="top:31.42px;height:12.09px;line-height:12.09px;font-size:8.06px;color:#55b88a;left:11.60px;letter-spacing:0.022px;">108,486.34</span>
<span id="t282" class="a t s" style="top:31.42px;height:12.09px;line-height:12.09px;font-size:8.06px;color:#eaecef;right:76.30px;">0.00224</span>
<span id="t283" class="a t s" style="top:31.42px;height:12.09px;line-height:12.09px;font-size:8.06px;color:#eaecef;right:12.62px;letter-spacing:-0.016px;">14:48:21</span>
<span id="t284" class="a t s" style="top:44.85px;height:12.09px;line-height:12.09px;font-size:8.06px;color:#55b88a;left:11.60px;letter-spacing:0.022px;">108,486.34</span>
<span id="t285" class="a t s" style="top:44.85px;height:12.09px;line-height:12.09px;font-size:8.06px;color:#eaecef;right:76.30px;">0.00047</span>
<span id="t286" class="a t s" style="top:44.85px;height:12.09px;line-height:12.09px;font-size:8.06px;color:#eaecef;right:12.62px;letter-spacing:-0.016px;">14:48:21</span>
<span id="t287" class="a t s" style="top:58.28px;height:12.09px;line-height:12.09px;font-size:8.06px;color:#55b88a;left:11.60px;letter-spacing:0.022px;">108,486.34</span>
<span id="t288" class="a t s" style="top:58.28px;height:12.09px;line-height:12.09px;font-size:8.06px;color:#eaecef;right:76.30px;">0.00006</span>
<span id="t289" class="a t s" style="top:58.28px;height:12.09px;line-height:12.09px;font-size:8.06px;color:#eaecef;right:12.62px;letter-spacing:-0.016px;">14:48:21</span>
<span id="t290" class="a t s" style="top:71.70px;height:12.09px;line-height:12.09px;font-size:8.06px;color:#55b88a;left:11.60px;letter-spacing:0.022px;">108,486.34</span>
<span id="t291" class="a t s" style="top:71.70px;height:12.09px;line-height:12.09px;font-size:8.06px;color:#eaecef;right:76.30px;">0.00047</span>
<span id="t292" class="a t s" style="top:71.70px;height:12.09px;line-height:12.09px;font-size:8.06px;color:#eaecef;right:12.62px;letter-spacing:-0.016px;">14:48:20</span>
<span id="t293" class="a t s" style="top:85.13px;height:12.09px;line-height:12.09px;font-size:8.06px;color:#e25563;left:11.60px;letter-spacing:0.022px;">108,486.33</span>
<span id="t294" class="a t s" style="top:85.13px;height:12.09px;line-height:12.09px;font-size:8.06px;color:#eaecef;right:76.30px;">0.06253</span>
<span id="t295" class="a t s" style="top:85.13px;height:12.09px;line-height:12.09px;font-size:8.06px;color:#eaecef;right:12.62px;letter-spacing:-0.016px;">14:48:20</span>
<span id="t296" class="a t s" style="top:98.56px;height:12.09px;line-height:12.09px;font-size:8.06px;color:#55b88a;left:11.60px;letter-spacing:0.022px;">108,486.34</span>
<span id="t297" class="a t s" style="top:98.56px;height:12.09px;line-height:12.09px;font-size:8.06px;color:#eaecef;right:76.30px;">0.00017</span>
<span id="t298" class="a t s" style="top:98.56px;height:12.09px;line-height:12.09px;font-size:8.06px;color:#eaecef;right:12.62px;letter-spacing:-0.016px;">14:48:20</span>
<span id="t299" class="a t s" style="top:111.99px;height:12.09px;line-height:12.09px;font-size:8.06px;color:#55b88a;left:11.60px;letter-spacing:0.022px;">108,486.34</span>
<span id="t300" class="a t s" style="top:111.99px;height:12.09px;line-height:12.09px;font-size:8.06px;color:#eaecef;right:76.30px;">0.00019</span>
<span id="t301" class="a t s" style="top:111.99px;height:12.09px;line-height:12.09px;font-size:8.06px;color:#eaecef;right:12.62px;letter-spacing:-0.016px;">14:48:20</span>
<span id="t302" class="a t s" style="top:125.42px;height:12.09px;line-height:12.09px;font-size:8.06px;color:#55b88a;left:11.60px;letter-spacing:0.022px;">108,486.34</span>
<span id="t303" class="a t s" style="top:125.42px;height:12.09px;line-height:12.09px;font-size:8.06px;color:#eaecef;right:76.30px;">0.00007</span>
<span id="t304" class="a t s" style="top:125.42px;height:12.09px;line-height:12.09px;font-size:8.06px;color:#eaecef;right:12.62px;letter-spacing:-0.016px;">14:48:19</span>
<span id="t305" class="a t s" style="top:138.86px;height:12.09px;line-height:12.09px;font-size:8.06px;color:#55b88a;left:11.60px;letter-spacing:0.022px;">108,486.34</span>
<span id="t306" class="a t s" style="top:138.86px;height:12.09px;line-height:12.09px;font-size:8.06px;color:#eaecef;right:76.30px;">0.00010</span>
<span id="t307" class="a t s" style="top:138.86px;height:12.09px;line-height:12.09px;font-size:8.06px;color:#eaecef;right:12.62px;letter-spacing:-0.016px;">14:48:19</span>
<span id="t308" class="a t s" style="top:152.29px;height:12.09px;line-height:12.09px;font-size:8.06px;color:#55b88a;left:11.60px;letter-spacing:0.022px;">108,486.34</span>
<span id="t309" class="a t s" style="top:152.29px;height:12.09px;line-height:12.09px;font-size:8.06px;color:#eaecef;right:76.30px;">0.00105</span>
<span id="t310" class="a t s" style="top:152.29px;height:12.09px;line-height:12.09px;font-size:8.06px;color:#eaecef;right:12.62px;letter-spacing:-0.016px;">14:48:19</span>
<span id="t311" class="a t s" style="top:165.71px;height:12.09px;line-height:12.09px;font-size:8.06px;color:#55b88a;left:11.60px;letter-spacing:0.022px;">108,486.34</span>
<span id="t312" class="a t s" style="top:165.71px;height:12.09px;line-height:12.09px;font-size:8.06px;color:#eaecef;right:76.30px;">0.00010</span>
<span id="t313" class="a t s" style="top:165.71px;height:12.09px;line-height:12.09px;font-size:8.06px;color:#eaecef;right:12.62px;letter-spacing:-0.016px;">14:48:19</span>
<span id="t314" class="a t s" style="top:179.15px;height:12.09px;line-height:12.09px;font-size:8.06px;color:#55b88a;left:11.60px;letter-spacing:0.022px;">108,486.34</span>
<span id="t315" class="a t s" style="top:179.15px;height:12.09px;line-height:12.09px;font-size:8.06px;color:#eaecef;right:76.30px;">0.00028</span>
<span id="t316" class="a t s" style="top:179.15px;height:12.09px;line-height:12.09px;font-size:8.06px;color:#eaecef;right:12.62px;letter-spacing:-0.016px;">14:48:19</span>
<span id="t317" class="a t s" style="top:192.57px;height:12.09px;line-height:12.09px;font-size:8.06px;color:#55b88a;left:11.60px;letter-spacing:0.022px;">108,486.34</span>
<span id="t318" class="a t s" style="top:192.57px;height:12.09px;line-height:12.09px;font-size:8.06px;color:#eaecef;right:76.30px;">0.00010</span>
<span id="t319" class="a t s" style="top:192.57px;height:12.09px;line-height:12.09px;font-size:8.06px;color:#eaecef;right:12.62px;letter-spacing:-0.016px;">14:48:19</span>
<span id="t320" class="a t s" style="top:206.00px;height:12.09px;line-height:12.09px;font-size:8.06px;color:#55b88a;left:11.60px;letter-spacing:0.022px;">108,486.34</span>
<span id="t321" class="a t s" style="top:206.00px;height:12.09px;line-height:12.09px;font-size:8.06px;color:#eaecef;right:76.30px;">0.00010</span>
<span id="t322" class="a t s" style="top:206.00px;height:12.09px;line-height:12.09px;font-size:8.06px;color:#eaecef;right:12.62px;letter-spacing:-0.016px;">14:48:19</span>
<span id="t323" class="a t s" style="top:219.44px;height:12.09px;line-height:12.09px;font-size:8.06px;color:#55b88a;left:11.60px;letter-spacing:0.022px;">108,486.34</span>
<span id="t324" class="a t s" style="top:219.44px;height:12.09px;line-height:12.09px;font-size:8.06px;color:#eaecef;right:76.30px;">0.00019</span>
<span id="t325" class="a t s" style="top:219.44px;height:12.09px;line-height:12.09px;font-size:8.06px;color:#eaecef;right:12.62px;letter-spacing:-0.016px;">14:48:19</span>
</div>
<div class="a" style="left:211.40px;top:49.00px;width:2.40px;height:43.20px;background:#4a515c;border-radius:1.2px;"></div>
</div>
<div class="a p" style="left:809px;top:498px;width:215px;height:98px;border-radius:4px;">
<span id="t326" class="a t" style="top:9.05px;height:14.1px;line-height:14.1px;font-size:9.4px;color:#eaecef;font-weight:700;left:11.40px;letter-spacing:-0.402px;">Top Movers</span>
<span id="t327" class="a t s" style="top:10.55px;height:12.09px;line-height:12.09px;font-size:8.06px;color:#848e9c;left:65.00px;letter-spacing:-0.403px;text-decoration:underline;text-decoration-thickness:0.7px;text-underline-offset:1.2px;">FAQ</span>
<svg style="left:195.6px;top:10.2px" width="6.6" height="7" viewBox="0 0 6.6 7" fill="none" stroke="#848e9c" stroke-width="0.8"><path d="M0.5 0.6L3.3 3L6.1 0.6M0.5 3.6L3.3 6L6.1 3.6"/></svg>
<div class="a" style="left:0.00px;top:28.40px;width:215.00px;height:1.00px;background:#23272e;"></div>
<div class="a" style="left:11.40px;top:36.00px;width:19.40px;height:16.30px;background:#323842;border-radius:3px;"></div>
<span id="t328" class="a t s" style="top:38.85px;height:12.09px;line-height:12.09px;font-size:8.06px;color:#eaecef;left:-128.93px;width:300px;text-align:center;letter-spacing:-0.051px;">All</span>
<span id="t329" class="a t s" style="top:38.85px;height:12.09px;line-height:12.09px;font-size:8.06px;color:#848e9c;left:37.50px;letter-spacing:-0.184px;">Change</span>
<span id="t330" class="a t s" style="top:38.85px;height:12.09px;line-height:12.09px;font-size:8.06px;color:#848e9c;left:77.30px;letter-spacing:-0.024px;">New High/Low</span>
<span id="t331" class="a t s" style="top:38.85px;height:12.09px;line-height:12.09px;font-size:8.06px;color:#848e9c;left:140.70px;letter-spacing:-0.043px;">Fluctuation</span>
<svg style="left:194.8px;top:40.6px" width="4.4" height="7" viewBox="0 0 4.4 7"><path d="M0.6 0.5L3.7 3.5L0.6 6.5" fill="none" stroke="#848e9c" stroke-width="0.9"/></svg>
<div class="a" style="left:212.00px;top:29.20px;width:2.30px;height:13.30px;background:#4a515c;border-radius:1.1px;"></div>
<span id="t332" class="a t" style="top:60.26px;height:12.09px;line-height:12.09px;font-size:8.06px;color:#eaecef;left:11.40px;letter-spacing:-0.361px;-webkit-text-stroke:0.15px #eaecef;">ONT/BTC</span>
<span id="t333" class="a t s" style="top:70.95px;height:12.09px;line-height:12.09px;font-size:8.06px;color:#848e9c;left:11.40px;letter-spacing:0.021px;">14:10:14</span>
<span id="t334" class="a t s" style="top:60.26px;height:12.09px;line-height:12.09px;font-size:8.06px;color:#e25563;right:50.48px;letter-spacing:-0.083px;">-5.93%</span>
<span id="t335" class="a t s" style="top:70.95px;height:12.09px;line-height:12.09px;font-size:8.06px;color:#848e9c;right:50.53px;letter-spacing:-0.128px;">Pullback</span>
<div class="a" style="left:175.40px;top:65.70px;width:26.90px;height:11.10px;background:#e25563;border-radius:2px;"></div>
<svg style="left:185.6px;top:68.2px" width="6.6" height="6" viewBox="0 0 6.6 6" fill="none" stroke="#fff" stroke-width="0.9"><path d="M1.6 5.4V2.6A1.7 1.7 0 0 1 5 2.6V5.4M0.3 4.1L1.6 5.5L2.9 4.1M3.7 4.1L5 5.5L6.3 4.1"/></svg>
<span id="t336" class="a t" style="top:87.85px;height:12.09px;line-height:12.09px;font-size:8.06px;color:#eaecef;left:11.40px;letter-spacing:-0.335px;-webkit-text-stroke:0.15px #eaecef;">MAGIC/BTC</span>
<span id="t337" class="a t s" style="top:87.85px;height:12.09px;line-height:12.09px;font-size:8.06px;color:#55b88a;right:50.71px;letter-spacing:-0.305px;">+6.04%</span>
<div class="a" style="left:175.40px;top:93.40px;width:26.90px;height:11.10px;background:#5bb98b;border-radius:2px;"></div>
</div>
<div class="a p" style="left:0px;top:598.3px;width:1024px;height:40px;border-radius:4px 4px 0 0;">
<span id="t338" class="a t" style="top:9.25px;height:14.1px;line-height:14.1px;font-size:9.4px;color:#eaecef;font-weight:700;left:11.20px;letter-spacing:-0.269px;">Open Orders(0)</span>
<span id="t339" class="a t s" style="top:9.25px;height:14.1px;line-height:14.1px;font-size:9.4px;color:#848e9c;left:87.40px;letter-spacing:0.004px;">Order History</span>
<span id="t340" class="a t s" style="top:9.25px;height:14.1px;line-height:14.1px;font-size:9.4px;color:#848e9c;left:154.40px;letter-spacing:-0.086px;">Trade History</span>
<span id="t341" class="a t s" style="top:9.25px;height:14.1px;line-height:14.1px;font-size:9.4px;color:#848e9c;left:220.40px;letter-spacing:-0.133px;">Funds</span>
<span id="t342" class="a t s" style="top:9.25px;height:14.1px;line-height:14.1px;font-size:9.4px;color:#848e9c;left:257.00px;letter-spacing:-0.116px;">Bots</span>
<div class="a" style="left:0.00px;top:27.70px;width:1024.00px;height:1.00px;background:#23272e;"></div>
<div class="a" style="left:33.20px;top:26.10px;width:10.60px;height:2.60px;background:#f0d85a;"></div>
<div class="a" style="left:0.00px;top:31.10px;width:1024.00px;height:3.00px;background:#111318;"></div>
<div class="a" style="left:939.60px;top:8.90px;width:10.10px;height:10.10px;border:0.9px solid #5e6673;border-radius:2px;"></div>
<span id="t343" class="a t s" style="top:8.16px;height:12.09px;line-height:12.09px;font-size:8.06px;color:#eaecef;left:955.00px;letter-spacing:-0.130px;">Hide Other Pairs</span>
</div>
</div></body></html>
